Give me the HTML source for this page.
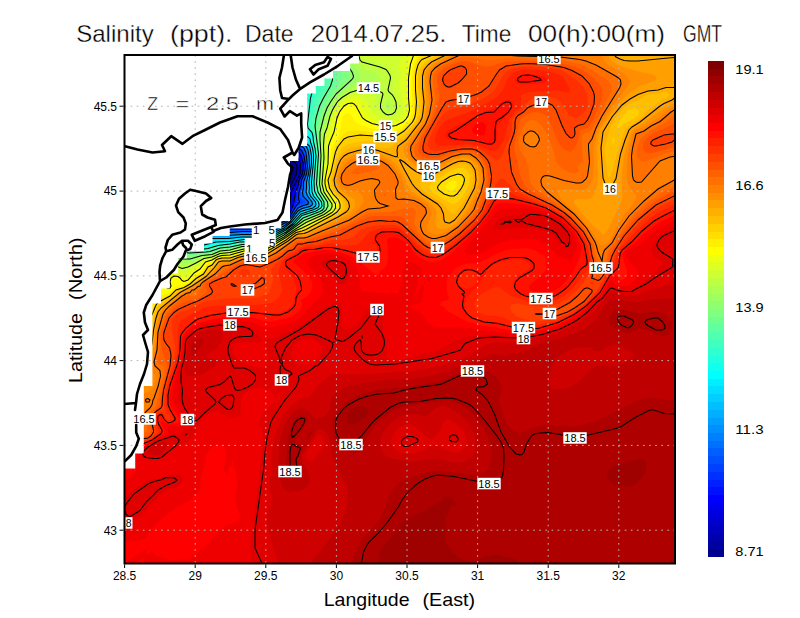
<!DOCTYPE html><html><head><meta charset="utf-8"><title>Salinity</title><style>html,body{margin:0;padding:0;background:#fff}svg{display:block}text{font-family:"Liberation Sans",sans-serif;fill:#000}</style></head><body>
<svg width="800" height="618" viewBox="0 0 800 618">
<rect width="800" height="618" fill="#fff"/>
<defs><clipPath id="cp"><rect x="124.5" y="55" width="550.5" height="508.5"/></clipPath></defs>
<defs><clipPath id="wm"><polygon points="680,50 358.8,55 358.8,63.5 350.2,63.5 350.2,71 333,71 333,78.5 324.4,78.5 324.4,86 315.8,86 315.8,93.5 307.2,93.5 307.2,146 298.6,146 298.6,161 290,161 290,221 281.4,221 281.4,228.5 229.8,228.5 229.8,236 212.6,236 212.6,243.5 204,243.5 204,251 186.8,251 186.8,258.5 178.2,258.5 178.2,273.5 169.6,273.5 169.6,288.5 161,288.5 161,303.5 152.4,303.5 152.4,386 143.8,386 143.8,453.5 135.2,453.5 135.2,468.5 124.9,468.5 120,468.5 120,570 680,570"/></clipPath></defs>
<g clip-path="url(#cp)">
<rect x="120" y="50" width="560" height="520" fill="#00008f"/>
<path fill="#00009f" fill-rule="evenodd" d="M246,54l430,0l0,512l-552,0l0,-347l0.5,-1l-0.5,-1l0.5,-3l-0.5,-3l2,0l3.5,3l1.5,2l1,0.5l2,0l2,-1l2,0l2,-0.5l2,0.5l0.5,-1.5l-1,-2l0.5,-0.5l2,0.5l2,-1l4,1l6,0l2,-1l2,1l4,0l2,-1.5l2,1.5l6,1.5l4,-0.5l8,2.5l12,-0.5l6,0.5l10,1.5l6,0l4,1.5l6,0.5l2,-1l2,1l4,0l2,-0.5l14,0.5l8,-0.5l10,-1.5l6,-2l4,-3l3,-4l2.5,-18l4.5,-10.5l3,-5.5l0.5,-2l0,-4l-1.5,-3.5l-4,-3.5l-2,-2.5l-2,-4.5l-3.5,-2l-0.5,-2l-2.5,-2l-1,-2l-0.5,-2l-2.5,-2l-3.5,-8l-2.5,-2l-0.5,-2l-2,-2l-2.5,-8l-3,-2l-1.5,-6l-3,-6l-1,-4l0.5,-2l-1,-6l2.5,0.5l0.5,-0.5l-1.5,-2l-0.5,-8l-4,-4l-1,-2l-0.5,-2l1,-0.5l2,1.5l3,-1l-5.5,-6l-1.5,-5.5l-5,-8.5l-0.5,-2l1.5,0zM125.5,220l0.5,1l0.5,-1l-0.5,-0.5l-0.5,0.5zM218,147l2,1l2,0.5l1.5,1.5l0.5,2l-2,1.5l-2,-2l-2,0l-1.5,-1.5l0.5,-2l1,-1zM226,149.5l2,2.5l2.5,0l-5.5,0l0.5,-2l0.5,-0.5z"/>
<path fill="#0000af" fill-rule="evenodd" d="M248,54l428,0l0,512l-552,0l0,-346.5l1.5,2.5l2,0l-2,-4l0.5,-2l-1.5,-4l1.5,0l2,1l2,3l2,1l6,0l2,-1l4,0.5l0,-0.5l-1,-2l1,-1.5l8,1l4,-0.5l2,-1l4,1.5l2,0l2,-2l6,2.5l4,0.5l2,0l10,2l10,-0.5l16,2l6,0.5l4,1l6,0.5l12,0l2,0l12,0l10,-1l6,-1l8,-3l4,-3l2,-3.5l0.5,-2.5l2,-16l8.5,-16l0.5,-4l0,-4l-1.5,-3l-4,-3.5l-3,-3.5l-1,-2l-4,-3l-2.5,-3l-2,-4l-2.5,-2l0,-2l-1,-0.5l-1.5,-3.5l-3,-4l-1,-2l-2,-2l-3,-8l-2,-2l-2,-6l-4,-10l0.5,-2l-0.5,-4l3,0l-2,-4l-0.5,-8l-2,-1l-3,-5l3,-1l2,1.5l1,-0.5l-1,-2.5l-2,-1l-3,-4.5l-1,-6l-2,-1l-2,-3.5l-1,-5.5l1,0zM218,148l2,1l2,0l1,1l0,2l-1,1l-2,-2l-2,0l-1,-1l1,-2z"/>
<path fill="#0000bf" fill-rule="evenodd" d="M250,54l426,0l0,512l-552,0l0,-336.5l0.5,-1.5l-0.5,-0.5l0,-7l0.5,1.5l3.5,1.5l0.5,-1.5l-2.5,-4l0.5,-2l-0.5,-2.5l2,0l1,2.5l3,2l10,-0.5l2,0.5l1,-2l-1.5,-2l0.5,-0.5l4,1l6,0l2,0l2,-1l6,1l2,-2l6,3.5l2,0l8,0l2,1.5l6,0.5l10,-0.5l20,2l6,1.5l4,0l28,0l10,-1l6,-1.5l6.5,-2.5l3,-2l2,-2l1.5,-4l1,-4l1,-12l0.5,-2l4,-6l1,-4l3.5,-6l1,-6l-0.5,-4l-2.5,-4l-6,-6l-4,-3l-2,-2l-5,-9l-2,-2l-5,-8l-2,-2l-2.5,-8l-2,-2l-1.5,-4l-4,-10l0.5,-2l-1,-4l2.5,0l-0.5,-4l-1,-2l-0.5,-6l-2,-3l-2,-1l-1,-4l1,-0.5l3.5,2.5l0,2l0.5,0.5l1,-0.5l0,-2l-2,-4l-3,-3.5l-3,-8.5l-2,-2l-2,-8l1,0zM218,149l4,0.5l0.5,0.5l-0.5,2l-2,-1.5l-2,0l-0.5,-0.5l0.5,-1z"/>
<path fill="#0000cf" fill-rule="evenodd" d="M252,54l6,0.5l0.5,-0.5l417.5,0l0,512l-552,0l0,-335l2,-1l-2,-3l0,-4.5l4,2l2,-0.5l-3.5,-6l1.5,-3l0.5,1l3.5,2.5l2,-0.5l6,2l2,-1.5l2,0.5l2,-1l-0.5,-2l0.5,-1l4,1l2,-1l2,1l4,0l2,-1l4,1l2,-2.5l3.5,2.5l2.5,1l2,0.5l4,-0.5l2,0.5l2,0l6,1.5l12,-0.5l20,2l10,1.5l28,0.5l10,-1.5l6,-1.5l8,-3l4,-3.5l2,-4l1.5,-5l0.5,-12l1,-2l3,-5l2,-5l3,-6l1,-6l-0.5,-4l-1.5,-4l-1.5,-2l-4,-4l-5.5,-4l-3,-4l-0.5,-2l-1.5,-1.5l-1.5,-2.5l-2,-2l-7,-10l-2,-8l-2.5,-2l-1.5,-6l-2,-2l-1.5,-4l0.5,-2l-1,-4l2,-2l0,-2l-1.5,-4l0,-4l-2.5,-4l0.5,-0.5l2,1.5l1,-1l-1,-2l0.5,-2l-5.5,-8l-1,-6l-3,-4l-1,-2l-1,-6l1,0zM258,80l0,2l-0.5,-2l0.5,0zM222,149.5l0,1.5l-1.5,-1l1.5,-0.5z"/>
<path fill="#0000df" fill-rule="evenodd" d="M254,54l2.5,0l1.5,1l1,-1l417,0l0,512l-552,0l0,-334l2,0l1,-2l-3,-3.5l0,-2.5l2,0l4,2l0.5,-2l-1.5,-2l-1.5,-4l0.5,-1.5l6,3.5l2,-0.5l4,1l2,1.5l0.5,-2l3.5,-1l2,-2.5l2,0.5l2,-1l2,1l4,0l4,-1.5l2,1l2,-2l2,1.5l6,3l4,-0.5l2,0.5l2,-0.5l6,2l6,-1l8,0.5l30,3l26,0.5l10,-1.5l8,-2l6,-2.5l4.5,-3.5l1.5,-2.5l2.5,-7.5l1,-12l8.5,-18l1,-6l-0.5,-4l-2.5,-6.5l-3,-3.5l-5.5,-4l-4,-6l-2.5,-2l-3,-4l-4,-6l-2.5,-4l-3,-8l-2,-2l-1.5,-6l-2,-2l-1,-4l0,-2l-0.5,-4l2,-2l0,-2l-1.5,-2l-0.5,-4l0,-2l1,-2l-0.5,-2l-1,-2l0,-2l-1.5,-4l-2.5,-4l-0.5,-4l-1,-2l-3,-4l-1.5,-8l1,0zM264.5,88l0,2l1.5,1l1.5,-1l-1.5,-3l-1.5,1z"/>
<path fill="#0000ef" fill-rule="evenodd" d="M258,55.5l2,1.5l1,-1l-1.5,-2l416.5,0l0,512l-552,0l0,-333l2,0l2,-0.5l0.5,-0.5l-0.5,-2l-2,-3l-2,-1l0,-0.5l4,0l2,1.5l0.5,-1l0,-2l-1,-2l-0.5,-2l0.5,-2l4.5,2.5l6,0.5l2,1.5l2,-1.5l3.5,-1l0.5,-2.5l2,0l2,1l6,0l2,0l2,-1.5l4,1.5l4,-1l2,2l2,0.5l10,0l4,1.5l4,0.5l2,-1l12,1l6,0l20,2l28,0.5l4,-0.5l12,-3l6.5,-3l5,-4l4,-10l1,-12l3.5,-6.5l1.5,-5.5l3.5,-6l0.5,-6l0,-4l-1.5,-5l-2,-3.5l-6,-5.5l-7.5,-8l-7,-10l-2.5,-4l-2,-6l-2.5,-4l-2,-6l-2,-2l-0.5,-2l1,-2l-1.5,-4l0.5,-0.5l2,0.5l-2.5,-10l2.5,0.5l1,-0.5l0,-2l-2.5,-4l-0.5,-2l-2.5,-2l0,-4l-2.5,-6l0,-2l-4.5,-8l0,-4l0,-2l1.5,-0.5zM261.5,58l0.5,0.5l1,-0.5l-1,-0.5l-0.5,0.5z"/>
<path fill="#0000ff" fill-rule="evenodd" d="M260,54l416,0l0,512l-552,0l0,-332.5l4,1.5l1,-3l-2,-4l1,-2l2,2l2,0l-1,-4l-1.5,-2l0.5,-2l2,0l4,1.5l4,0l4,3l2,-2l2,0l1,-0.5l1.5,-2l1.5,-0.5l2,-0.5l4,1l4,-1.5l2,0l4,1l2,-0.5l2,2l2,0.5l12,0l2,1l4,0.5l2,-1l18,1l16,2l30,0.5l6,-0.5l12,-3l8,-4l4.5,-4l4,-10l0.5,-8l1,-4l3,-6l1.5,-6l3,-6l1,-10l-2,-6l-2,-4l-8.5,-8l-7.5,-8l-6,-10l-2,-6l-2,-2l-2.5,-8l-1.5,-2l0.5,-2l-1.5,-4l2.5,0l-1,-6l-1,-2l-0.5,-2l0.5,-0.5l2,1l1.5,-0.5l-1,-4l-2,-2l-0.5,-2l-2,-3.5l-1,-0.5l0.5,-4l-1.5,-2l-2,-8l-2,-2l-1,-4l0,-4l1,-0.5l4,3l1.5,-0.5l-1.5,-2.5l-2,-0.5l-2,-3zM271.5,98l0.5,0l0,-0.5l-0.5,0.5z"/>
<path fill="#0010ff" fill-rule="evenodd" d="M262,54l414,0l0,512l-552,0l0,-331.5l2,1.5l2,0.5l2,-1.5l0.5,-1l-0.5,-2l-1,-2l1,-1l2,0.5l1,-1.5l-1.5,-4l-1.5,-2l2,-1l3,1l1,2l2,-0.5l2,1l2,-1l2,1.5l4,-1.5l2,0.5l1,-2l2.5,-2l4.5,1l6,-1.5l6,1.5l2,1.5l10,0.5l4,-0.5l4,1.5l6,-0.5l16,0.5l18,2l28,0.5l10,-1.5l9.5,-3l8,-4l4,-4l4,-10l1,-8l1,-4l2.5,-6l1.5,-6l3,-6l1,-8l-0.5,-4l-2,-6l-2.5,-4l-11,-10l-3.5,-4l-2,-4l-2,-2l-2,-4l-2,-6l-1.5,-2l-1,-2l-1.5,-4l0,-2l-1,-2l-1,-4l1.5,-2l-0.5,-4l1,-0.5l2,0.5l-0.5,-2l-0.5,-4l-1,-4l-2,-2l-2.5,-4l0,-4l-2,-6l0,-2l-3.5,-6l-0.5,-6l4.5,2.5l1.5,-0.5l-3.5,-5.5l-2,-0.5l0,-2zM270,95.5l1,0.5l-1,0.5l-0.5,-0.5l0.5,-0.5z"/>
<path fill="#0020ff" fill-rule="evenodd" d="M266,54l410,0l0,512l-552,0l0,-330.5l4,2l2.5,-1.5l1,-2l-0.5,-2l-1.5,-2l0.5,-0.5l2,1l0.5,-0.5l1,-2l-1.5,-4l0,-1l2,-0.5l1,1.5l1,0.5l4,1l2,-1.5l2,2l2,0.5l1,-0.5l1,-2l2,1.5l4,-3.5l2,-0.5l1.5,0.5l2.5,2l1,-2l3,-1l5.5,1l2.5,2.5l2,-1l4,0.5l2,-0.5l2,0.5l4,0l4,1l6,0l16,0l18,2l28,0l10,-1l10,-3.5l8,-4l4,-4l5.5,-12.5l1,-10l2.5,-6l1,-6l3,-6l1,-10l-2,-8l-2,-4l-11,-10l-3.5,-4l-6,-10l-2,-6l-2,-2l-1,-4l-1,-4l-1,-2l1,-2l-0.5,-6l2.5,-2l-1.5,-8l-4,-6l-1,-2l0.5,-4l-2,-4l0,-4l-3,-4l-0.5,-6l4,3l2,-1l-1,-2l-1,-1l-3.5,-5l-0.5,-2l2,0zM270,66l0.5,0l-0.5,-2l0,2z"/>
<path fill="#0030ff" fill-rule="evenodd" d="M266,54l410,0l0,512l-552,0l0,-329.5l4,1.5l2,0l2,0.5l0.5,-0.5l-1,-2l1,-2l-0.5,-2l2,0.5l0.5,-0.5l-1,-2l0.5,-2l-0.5,-2l0.5,-2l3.5,2l0.5,1l2,-0.5l2,-2l2,2l4,1.5l2,-1.5l2,-0.5l2,-2l2,-0.5l4,1.5l2,0l0,-1l2,-1.5l4,0l4,3l6,-0.5l2,-0.5l2,1l4,-0.5l6,1.5l4,-0.5l16,0.5l18,1.5l28,0l10,-1.5l8,-2l8,-3.5l6,-5l7,-14l0,-4l0.5,-6l2.5,-6l1,-6l2,-4l1,-3.5l0.5,-6.5l0,-4l-1.5,-6l-1.5,-4l-1.5,-2l-9.5,-8l-3.5,-4l-3,-4l-3,-6l-2,-6l-1.5,-2l-1.5,-4l0,-2l-1,-2l1,-2l-1.5,-4l0.5,-2l2.5,-2l-1,-4l-1.5,-6l-3,-4l-2.5,-14l-2.5,-4l-0.5,-2l0,-2l1.5,-0.5l4,2.5l0.5,0l0,-2l-2.5,-4.5l-2,-1l-3.5,-6.5l1.5,0z"/>
<path fill="#0040ff" fill-rule="evenodd" d="M266,54l410,0l0,512l-552,0l0,-327.5l2,-0.5l2,1l4,0.5l1.5,-1.5l0,-4l1.5,-2l0,-4l-1,-2l2.5,0l1.5,2l2,0l2,-2.5l6,3.5l2,-1.5l2,0l6,-2l4,1l2,-3l4,0.5l2,0.5l2,2l6,0l2,-1l4,1.5l4,-0.5l4,1.5l20,-0.5l18,1.5l30,0l8,-1.5l10,-3l8,-4l4.5,-4.5l5.5,-10l3.5,-4l-1,-4l0.5,-6l2,-6l0.5,-6l3,-6l1,-8l-0.5,-4l-1,-6l-2,-5l-2,-2.5l-8,-6.5l-3.5,-4l-2.5,-4l-3.5,-6l-2,-6l-1.5,-2l-1,-2l-0.5,-4l0.5,-2l-1.5,-6l3,-2l-1,-2l0,-4l-1.5,-4l-1,-2l-2,-2l-1,-6l0.5,-2l-1.5,-2l-0.5,-6l-1.5,-1.5l-1,-2.5l0,-2l1,-0.5l4,3l0.5,-0.5l0,-2l-4.5,-7l-1,-1l-4.5,-6l1.5,0z"/>
<path fill="#0050ff" fill-rule="evenodd" d="M266,54l410,0l0,512l-552,0l0,-326l2,-0.5l2,0l2,1.5l2,-1l2,0.5l0.5,-0.5l-0.5,-2l2,-1l0.5,-1l-0.5,-4l0.5,-2l-1,-2l0.5,-0.5l0.5,0.5l3.5,1.5l2,-0.5l2,-1.5l6,3l6,-3l2,0.5l2,-1l2,0.5l2,-2l2,-0.5l4,0.5l2,2l2,0.5l4,0l2,-1l4,1l4,0l4,1l16,-0.5l22,1.5l28,0l8,-1l10,-3l10,-5l5,-5l5,-8.5l2,-2l6.5,-3.5l-4.5,-4l-0.5,-2l0.5,-4l2,-6l0,-4l3,-8l1,-6l0,-6l-1.5,-8l-2.5,-5l-8.5,-7l-6.5,-8l-3,-6l-2,-6l-1.5,-2l-1,-4l0.5,-2l-1,-4l2,-2l0,-4l-1,-2l-0.5,-4l-3.5,-8l-0.5,-6l-1.5,-8l-2.5,-4l0.5,-1l2,0.5l2,1l1,-0.5l-0.5,-2l-0.5,-2l-5,-6l-1,-2l-5,-6l1,0z"/>
<path fill="#0060ff" fill-rule="evenodd" d="M266,54l410,0l0,512l-552,0l0,-325.5l2,1l2,-1.5l2,2.5l4,-1l2,-3l2,0.5l0.5,-1l-1.5,-2l0,-2l1,-2l-0.5,-2l0.5,-0.5l2,2l6,-2l6,3l2,-2.5l2,-0.5l6,-0.5l2,0.5l2,-3.5l4,1l4,2.5l8,-1l2,1l6,0l2,1l2,0l18,-0.5l18,1l12,-0.5l16,0l6,-0.5l12,-3.5l10,-4.5l6,-6l4,-7l2,-2l8,-4l0.5,-1l-0.5,-1l-4,-3l-1,-2l0,-4l2,-6l0,-4l2.5,-8l1,-6l0,-6l-1,-8l-1.5,-4l-1.5,-2l-7.5,-6l-6.5,-8l-3,-6l-2,-6l-1.5,-2l-0.5,-2l1,-2l-1.5,-4l2,-2l-0.5,-6l-0.5,-2l-0.5,-2l-1.5,-4l0,-2l-2,-2l-2,-16l-1.5,-2l1.5,-0.5l2,1l1,-0.5l-0.5,-2l-0.5,-2l-7,-8l-0.5,-2l-5.5,-6l1,0z"/>
<path fill="#0070ff" fill-rule="evenodd" d="M266,54l410,0l0,512l-552,0l0,-324.5l2,1l2,-0.5l2,1l5,-1l1,-2.5l2,0l1,-1.5l-1,-2l0,-2.5l6,-1.5l2,-2l6,3l2,-1.5l4,-1l6,0.5l4,-2.5l6,2l6,0l2,-0.5l4,1l4,0l4,0.5l18,-0.5l18,1l12,-0.5l16,0l6,-0.5l12,-3.5l10,-5l6,-6l6,-8.5l4,-2.5l5.5,-1.5l0.5,-2l-5,-6l-1,-4l1.5,-4l0,-6l3,-8l1,-8l-1.5,-13l-2.5,-5l-7,-6l-3.5,-4l-3,-4l-3.5,-6l-1,-4l-2,-4l1,-2l-1,-4l1.5,-2l-1,-8l-2.5,-6l0,-4l-1.5,-2l-0.5,-4l0,-2l-1,-4l0,-4l-1,-2l2.5,-1l0,-3l-8.5,-10l-0.5,-2l-5.5,-6l0.5,0z"/>
<path fill="#0080ff" fill-rule="evenodd" d="M266,54l410,0l0,512l-552,0l0,-324l2,1l2,-0.5l2,1l6,-0.5l3.5,-3l-0.5,-4l1,-1.5l4,-1l2,-2l8,3l2,-2l4,-0.5l4,0.5l2,-1.5l4,-1l6,2l2,-0.5l2,0.5l2,-0.5l4,0.5l14,1l10,-1l18,1l16,-0.5l14,0l6,-0.5l12,-4l8.5,-4l5.5,-4l8,-11l4,-2.5l6,-1.5l1.5,-1l0,-2l-5,-6l-1,-4l1,-4l0,-6l2.5,-8l1,-8l-0.5,-10l-1.5,-6l-2,-3l-6,-5l-4,-4l-2.5,-4l-3.5,-6l-1,-4l-1,-2l0.5,-2l-1,-4l1,-2l-0.5,-8l-2,-6l-0.5,-4l-2,-4l0,-4l0.5,-2l-1.5,-2l0,-6l1.5,-2l-1.5,-2l0,-2l-8.5,-10l0,-2l-2,-2l-2,-1.5l-2,-2.5z"/>
<path fill="#008fff" fill-rule="evenodd" d="M266,54l410,0l0,512l-552,0l0,-322.5l4,0l2,1l2,0l2,-0.5l2,0.5l1.5,-0.5l3,-2l1,-6l4.5,-1.5l2,-1.5l6,2l6,-2l4,0.5l6,-2l2,0.5l2,1l8,-0.5l6,1l12,1l10,-1l18,1l16,-1.5l14,0.5l6,-1l12,-3.5l10,-5l4.5,-4l7.5,-10l2,-1.5l4,-1.5l4.5,-1l2.5,-2l-0.5,-2l-4.5,-6l-1.5,-4l1,-4l0,-6l2,-8l1,-8l-0.5,-10l-1,-6l-1,-2l-1.5,-2l-5.5,-4l-3.5,-4l-4,-6l-2.5,-6l-1.5,-8l1.5,-2l-1,-4l-0.5,-6l-1.5,-4l-0.5,-6l-1.5,-2l0,-6l-1,-4l0,-4l1,-2l-3,-4l0,-2l-8.5,-10l0,-2l-2.5,-3l-2,-1l-2,-2z"/>
<path fill="#009fff" fill-rule="evenodd" d="M270,54l406,0l0,512l-552,0l0,-321.5l2,0l2,-0.5l4,2l4,-0.5l2,0l4.5,-3.5l-1,-2l2.5,-3l3.5,-1l0.5,-1l2,-0.5l4,1l6,-0.5l6,0l2,-1l4,-1l2,1.5l8,-0.5l6,1l12,1l12,-1.5l16,1l14,-1.5l16,0l6,-0.5l12,-4l8,-3.5l6,-5l8,-10l6,-3.5l7,-1.5l1,-1.5l0,-2.5l-5,-6l-1.5,-4l1,-4l-0.5,-6l2.5,-8l1,-8l-0.5,-10l-1,-6l-1,-2l-1.5,-2l-5,-4l-3.5,-4l-3,-4l-2,-4l-1,-4l0,-2l-1,-2l1,-2l-1.5,-6l-0.5,-8l-1.5,-4l0,-6l-1,-2l0,-6l-1,-2l0.5,-6l-4.5,-6l0,-2l-8,-10l0,-2l-4,-4l0.5,-2z"/>
<path fill="#00afff" fill-rule="evenodd" d="M276,54l400,0l0,512l-552,0l0,-321l2,1l4,-0.5l2,1l4,0l2,0l2,-0.5l4,-3l0.5,-1l-0.5,-2.5l4,-2l2,-2l10,1l2,-0.5l4,0.5l2,-1.5l4,-1l4,2l8,-0.5l10,1.5l8,0l10,-1.5l16,0.5l14,-1l16,0l6,-0.5l12,-4.5l8,-3.5l6,-4.5l8,-10l2,-1.5l4,-2l6,-1.5l2.5,-1l1,-2l-0.5,-2l-5,-6l-1.5,-4l1,-4l-0.5,-6l1.5,-6l1.5,-10l-0.5,-10l-1,-6l-1.5,-4l-5.5,-4l-3.5,-4l-4.5,-8l-2.5,-16l0,-6l-1.5,-6l0,-4l-1,-4l0,-4l-1,-4l0,-2l-1,-2l0,-2l-4.5,-6l0,-2l-6,-8l0.5,-2l-2,-4l-0.5,-4l2,0z"/>
<path fill="#00bfff" fill-rule="evenodd" d="M278,54l1,0l3,2l0,-2l394,0l0,512l-552,0l0,-321l2,1.5l4,0l2,1l2,-0.5l2,1l2,-0.5l2,0.5l5.5,-4l0.5,-3l6,-4l8,1l2,-0.5l4,0l2,-1l4,-0.5l4,1.5l8,-0.5l10,1.5l8,0l10,-1.5l16,0l14,-1l16,0l6,-1l12,-4l8,-4l6.5,-5l7.5,-9l2,-2l4,-1.5l6,-1.5l4,-2l0.5,-2l-0.5,-2l-4.5,-6l-1.5,-4l0.5,-4l-0.5,-6l1.5,-6l1,-12l0,-8l-1,-6l-1.5,-4l-7,-6l-4,-6l-2,-4l0,-4l-2,-10l-1,-8l-0.5,-4l0,-6l-1,-2l-0.5,-10l-3,-4l0.5,-2l-3.5,-4l0.5,-4l-2.5,-1.5l-1.5,-2.5l0,-4l-1,-2l-1,-4l-2,-4l1.5,0z"/>
<path fill="#00cfff" fill-rule="evenodd" d="M286,54l390,0l0,512l-552,0l0,-320.5l2,1.5l4,0l2,1l2,0l2,1l4,0l6,-2.5l2,-0.5l-1,-2l0.5,-2l1.5,-2l3,-2l6,1l4,0l4,0l8,-2l2,2l8,-0.5l10,1.5l8,0l10,-2l16,0l14,-1.5l16,0l6,-0.5l12,-4.5l8,-4l7.5,-5.5l6.5,-8.5l2,-1.5l4,-2l8.5,-2l3,-2l0.5,-2l-1,-2l-4.5,-6l-2,-4l1,-4l-0.5,-6l1,-6l1.5,-12l-0.5,-8l-0.5,-6l-1.5,-4l-5,-4l-4,-5l-1.5,-3l-0.5,-2l-1,-2l-1.5,-8l-2,-16l0,-6l-1,-12l-4.5,-6l-0.5,-4l0.5,-2l-0.5,-2l-2,-2l-0.5,-2l0,-2l-0.5,-2l-1,-2l0.5,0l2,0.5l1,-0.5l0,-2l-1,-2l0,-4l-1,-2l1,0zM148.5,242l1.5,0.5l0,-0.5l0,-0.5l-1.5,0.5z"/>
<path fill="#00dfff" fill-rule="evenodd" d="M288,54l388,0l0,512l-552,0l0,-309l2,-3l-2,-4l0,-2l2,-0.5l4,0l2,1l2,0l4,1.5l2,0l2,0.5l4,-2.5l2,0l1,-2l-1,-2.5l2,1l1,-0.5l0,-2l1,-2l2,-0.5l4,1l2,-0.5l2,0.5l2,-0.5l2,0l8,-1.5l2,2l8,-0.5l10,1.5l8,0l12,-2l14,-0.5l14,-1.5l16,0l6,-1l12,-4.5l8,-3.5l8,-6.5l8,-9.5l4,-1.5l10,-3l2.5,-2l0.5,-2l-1,-2l-4.5,-6l-2,-4l0.5,-4l-0.5,-6l2.5,-18l0,-8l-1.5,-8l-0.5,-2l-1.5,-2l-3,-2l-4.5,-6l-3,-8l-1,-6l-1.5,-14l0,-8l-1,-10l-2.5,-4l-1.5,-4l1.5,-4l-0.5,-2l-2,-2l0.5,-4l1,-2l-0.5,-8l-0.5,-2.5l-2.5,-1.5l-0.5,-2l1,0z"/>
<path fill="#00efff" fill-rule="evenodd" d="M292,54l384,0l0,512l-552,0l0,-307.5l2,0l1,-2.5l-2,-6l1,-2l6,1.5l2,-0.5l2,1.5l4,0l2,1l7.5,-3.5l0,-2l0.5,-0.5l2,0l0.5,-1.5l-0.5,-2.5l2,-1l6,1.5l2,-0.5l4,0l6,-1l4,1l8,0l18,1.5l4,0l8,-2.5l14,-0.5l16,-2l14,0l6,-0.5l10,-4l10,-4.5l8,-6l8,-9.5l4,-2l10,-2.5l1.5,-1l2,-2l0.5,-2l-1,-2l-4.5,-6l-2,-4l0.5,-4l-0.5,-6l2,-18l0,-8l-1,-8l-1.5,-4l-4,-3l-4,-6.5l-2,-4.5l-1.5,-8l-1,-12l0,-12l-1,-2l0,-2l-1,-2l-0.5,-6l-1,-2l1,-2l-1,-2l1,-2l-1,-2l0,-2l-0.5,-2l1.5,-2l-1,-2l0,-2l1,-2l-4.5,-10l1.5,0z"/>
<path fill="#00ffff" fill-rule="evenodd" d="M294,54l382,0l0,512l-552,0l0,-306.5l2,0.5l2,-1l0.5,-1l0,-2l-1.5,-4l-0.5,-2l1.5,-0.5l4,1l2,-0.5l2,1l4,0l2,1l2,0.5l3.5,-2.5l2.5,-1l3.5,-3l2.5,-3.5l4,0.5l2,-0.5l4,0.5l6,-1l6,1l2,-0.5l6,0.5l8,1l10,0.5l12,-3l14,-0.5l14,-2l14,0l6,-1l12,-4.5l10,-5.5l6,-4.5l8.5,-9.5l3.5,-1.5l10,-3l3,-1.5l1,-1l0.5,-1l0.5,-2l-1,-2l-4.5,-6l-2,-4l0.5,-4l-0.5,-6l2,-20l-0.5,-8l-0.5,-6l-3.5,-8l-3,-2l-2,-3l-2.5,-5l-0.5,-4l-1.5,-14l0.5,-10l-1,-4l-1,-2l0,-4l0.5,-4l-0.5,-2l0.5,-4l2,-2l-0.5,-2l-1,-6l0.5,-2l-0.5,-4l-3,-6l-3.5,-6l1.5,0z"/>
<path fill="#10ffef" fill-rule="evenodd" d="M298,54l378,0l0,512l-552,0l0,-305.5l4,1l2.5,-3.5l-2,-6l1.5,-0.5l2,0.5l2,-0.5l6,0l6,2l2,-2l2,-0.5l1.5,-1l2.5,-2.5l2,-3l4,-0.5l8,0.5l6,-1l4,1l4,-0.5l22,2l12,-3l14,-1l14,-2l14,-0.5l6,-0.5l12,-5l10,-5l6,-5l7,-8l2.5,-2l12.5,-4l4.5,-2l1.5,-2l0,-2l-1,-2l-4.5,-6l-2,-4l0,-2l0.5,-2l-1,-6l2,-20l0,-8l-1,-6l-2,-6l-1,-7l-2,-1.5l-2,0l-1.5,-1.5l-1,-2l-1,-4l-0.5,-12l0,-10l-0.5,-2l-0.5,-4l1,-8l-0.5,-2l2,-2l0.5,-8l-0.5,-2l0,-4l-0.5,-2l-4,-10l-1,-6z"/>
<path fill="#20ffdf" fill-rule="evenodd" d="M304,54l372,0l0,512l-552,0l0,-304.5l2,1l2,0l2,-0.5l2,-1.5l-2,-6.5l2,-0.5l2,0.5l2,-1l2,1l2,-1l4,0.5l2,1l1.5,-0.5l4,-2l6.5,-5.5l2,-1l8,0.5l6,-1l4,1l6,-0.5l20,1.5l12,-3l14,-1l12,-2l16,-0.5l6,-1l12,-5l10,-5l7,-5.5l7,-8l2,-1.5l12,-3.5l5.5,-3l1,-2l-0.5,-4l-4.5,-6l-2,-4l0,-2l0,-2l-0.5,-6l1.5,-16l0.5,-10l-1,-8l-1.5,-6l-0.5,-6l-2,-3l-4.5,-3l-1,-4l0,-18l-0.5,-4l1.5,-12l1.5,-4l1.5,-8l0,-4l-2,-6l0.5,-2l-1,-0.5l-1,-3.5l0.5,-2l-1,-2l-0.5,-2l-1.5,-2l1,-2l0.5,0z"/>
<path fill="#30ffcf" fill-rule="evenodd" d="M312,54l364,0l0,512l-552,0l0,-275l1,-1l-1,-2l0,-2.5l0,-22l6,0.5l2,-1.5l1,-2.5l0,-2l3,-2.5l4,-0.5l0.5,-1l1.5,-0.5l4,1.5l6,-1l4,-3l2,-3l16,-1.5l4,1l26,1l4,-0.5l10,-3l12,-1.5l12,-2l16,0l6,-1l6,-2.5l16,-8l7.5,-6l6.5,-7l2,-1.5l14,-5l4.5,-2.5l1,-2l-0.5,-4l-4.5,-6l-2,-4l-0.5,-2l0.5,-2l-0.5,-6l1.5,-26l-1,-8l-1.5,-6l-0.5,-6l-0.5,-2.5l-2,-2.5l-2,-1l-1,-2l-0.5,-4l2.5,-26l3,-12l1,-6l-0.5,-8l-3,-10l2,-2l-1.5,-6l2,0z"/>
<path fill="#40ffbf" fill-rule="evenodd" d="M316,54l360,0l0,512l-552,0l0,-265l1,-1l-1,-2.5l0,-3l2,-1.5l0.5,-3l0,-2l-2.5,-3l0,-18.5l2,-1.5l6,0l1,-1l1.5,-2l0,-2l3.5,-3l2,0l4,-2l4,0l2,1l2,0l4,-3l2,0l0.5,-1l0.5,-2l1,-1l2,0.5l6,-1.5l8,0l4,0.5l24,1l4,-0.5l10,-3l12,-1.5l12,-2l16,-0.5l6,-1l6,-2l16,-8.5l8.5,-6.5l7.5,-8l14,-4.5l5.5,-3.5l1,-2l-0.5,-4l-4.5,-6l-2,-4l-0.5,-2l0.5,-2l-1,-6l1.5,-18l0.5,-10l-1.5,-8l-1,-4l-0.5,-8l-4,-6l-1,-4l1,-8l3,-16l5.5,-18l0,-8l-1,-10l-2.5,-10l1.5,0zM142,254l0.5,0l-0.5,2l0,-2z"/>
<path fill="#50ffaf" fill-rule="evenodd" d="M320,54l356,0l0,512l-552,0l0,-256.5l1,-1.5l-1,-2.5l0,-3l3,-2.5l-3,-3.5l0,-1l2.5,-1.5l1.5,-4l2,-2l-4,-1.5l-2,-2.5l0,-8l1.5,-2l1,-6l3,-2l2.5,-0.5l2,1l1,-0.5l1.5,-2l-0.5,-2l1,-2l1,-1l4,-0.5l3,-2.5l3,0l2,0.5l2,0l6,-2l4,-3.5l4,-0.5l2,-0.5l8,-0.5l14,1.5l16,-0.5l4,-1l8,-2.5l12,-1.5l12,-2.5l16,0l6,-1l6,-2.5l16,-8.5l9.5,-7l6.5,-7l14,-5l6,-3l1,-3l0,-4l-4.5,-6l-2,-4l-0.5,-2l-0.5,-8l1.5,-28l-2,-12l-0.5,-8l-2.5,-6l-1,-4l0.5,-4l3.5,-16l2,-6l5.5,-12l1.5,-6l-0.5,-10l-4,-16l0.5,0z"/>
<path fill="#60ff9f" fill-rule="evenodd" d="M326,54l350,0l0,512l-552,0l0,-254l1.5,0l1,-4l-0.5,-2l-2,-2l5,-4l-2,-2l1.5,-2l-1,-2l0.5,-2l2,-1.5l1.5,-0.5l-0.5,-2l-3,-2l-2,-0.5l-1,-1.5l1,-2l0,-6l2,0.5l0.5,-0.5l-0.5,-2l1,-2l0,-2l1,-2l4,-0.5l4,-1l0,-2.5l1,-2l3,-2l2,0.5l2,-3.5l8,0.5l2,-0.5l6,-4l4,-1l10,-1l14,1.5l16,-1l4,-0.5l10,-3.5l10,-1l12,-2.5l18,-0.5l6,-1.5l20,-10.5l10,-7.5l6,-6l20,-8l1.5,-2l0,-6l-4,-6l-2,-4l-1,-8l1.5,-30l-2,-12l-0.5,-8l-2,-8l1.5,-8l3.5,-14l3.5,-7.5l6,-10.5l1.5,-4l0,-4l-0.5,-6l-4.5,-18l1.5,0zM126,296l0.5,0l-0.5,0.5l-0.5,-0.5l0.5,0z"/>
<path fill="#70ff8f" fill-rule="evenodd" d="M330,54l346,0l0,512l-552,0l0,-236.5l1,-1.5l0,-2l-1,-1l0,-11l4,-2l0.5,-2l-1,-4l3,-6l-1.5,-2l1,-2l0,-2l4,-4l-5,-4l-0.5,-2l0,-4l2.5,-2l-1,-2l1.5,-2l2,-2l-1,-2l5.5,-1.5l1,-0.5l1.5,-2l0.5,-2l1,-1l2,0l1.5,-1l2.5,-3.5l1,-0.5l3,-0.5l2,1l2,0l2,-1.5l4,-0.5l4,-2.5l4,-1l8,0l12,1l18,-2l12,-3.5l10,-1l12,-3l18,-0.5l6,-1l20,-11l8.5,-6l9,-8l12.5,-4.5l7,-3.5l1.5,-2l0,-6l-6,-10l-1.5,-8l2,-28l-3,-30l1.5,-8l3.5,-12l4,-8l8,-12l2.5,-6l0,-4l-0.5,-4l-6,-18l1,0zM126,284l1,0l-1,0z"/>
<path fill="#80ff80" fill-rule="evenodd" d="M334,54l342,0l0,512l-552,0l0,-233.5l3.5,-2.5l-1.5,-2l1,-2l-2,-2l0.5,-2l0,-4l1,-2l3.5,-2.5l0.5,-1.5l-1,-6l3.5,-4l-2.5,-4l1.5,-2l0.5,-2l3,-2l-0.5,-2l-5,-4l1,-2l0,-2l2,-2l0.5,-4l2.5,-2l2,-3.5l3.5,-2.5l2.5,-3l4,-1l2,-3.5l2,-1.5l4,0.5l2,-1l4,0l2,-1l2,-1.5l8,-1.5l12,1.5l6,-0.5l10,-1.5l8,-1l10,-3.5l10,-1l12,-3l18,-0.5l4,-1l6,-2.5l16,-8.5l9.5,-7l8.5,-7l17,-7l3.5,-2l1,-2l0,-6l-6,-10l-1.5,-8l1.5,-28l-1,-14l-0.5,-12l2,-12l4,-12l6,-10l9,-12l3,-6l0.5,-2l-1,-4l-7.5,-18z"/>
<path fill="#8fff70" fill-rule="evenodd" d="M340,54l336,0l0,512l-552,0l0,-229.5l3,-4.5l3,-2l-1.5,-2l1.5,-2l-2.5,-2l1,-2l-1,-2l2.5,-2l-1,-2l3,-2l0.5,-2l-0.5,-2l0,-2l3,-6l-2.5,-4l4,-4l0.5,-2l-1,-2l-2.5,-2l0.5,-1l2,-1l-2,-2l-0.5,-2l2.5,-1l0,-3l2,-2l2,-0.5l0.5,-1.5l0,-2l3,-2l0.5,-3l4,-1l4,-5l4,-0.5l2,-0.5l6,-0.5l4,-2l8,-1.5l10,2l6,-0.5l10,-2.5l10,-1.5l8,-3l10,-1.5l12,-2.5l18,-1l4,-0.5l4,-1.5l16,-9l12,-8.5l8,-6.5l18,-7l3.5,-2.5l1,-2l0.5,-4l-0.5,-2l-6,-10l-1.5,-8l1.5,-28l-1,-14l0,-10l2.5,-14l5,-12l7,-11.5l12,-12.5l3.5,-4l0.5,-2l-0.5,-2l-8.5,-14l-2,-6l1,0z"/>
<path fill="#9fff60" fill-rule="evenodd" d="M344,54l332,0l0,512l-552,0l0,-217.5l1.5,-0.5l0,-2l-1.5,-2l0,-4.5l1.5,-1.5l3.5,-6l2,-2l-0.5,-2l2,-2l-2.5,-2l0.5,-2l2,-4l-1,-2l3,-2l-0.5,-6l1.5,-2l1,-4l-0.5,-2l-2,-2l3,-2l1.5,-2l-0.5,-2l-2,-4l2,-1l1,-1l-1.5,-2l1,-2l0.5,-2l3,-2.5l1,-3.5l-0.5,-2l3.5,-2l1,-2l3,-1l2,-1l2,-3l4,-1.5l8,-0.5l4,-2l6,-0.5l8,1.5l6,0l12,-4l10,-1.5l8,-3l10,-1.5l14,-3l16,-0.5l6,-1.5l20,-11l18,-13.5l18,-7.5l4.5,-3l2,-4l0,-2l-2,-4l-5,-8l-2,-8l2,-28l-1,-12l0,-10l4.5,-18l2,-6l4.5,-8l2.5,-4l4,-4.5l14,-11.5l2,-2l1,-2l0,-4l-0.5,-2l-7.5,-10l-3,-6l-0.5,-2l0.5,0z"/>
<path fill="#afff50" fill-rule="evenodd" d="M350,54l326,0l0,512l-552,0l0,-216.5l2,0.5l1.5,-2l0,-2l-1,-2l-0.5,-2l3,-6l5,-10l-1.5,-2l0,-2l1.5,-2l1.5,-4l0.5,0l0.5,-2l-0.5,-2.5l2.5,-7.5l-0.5,-2l-0.5,-2l3,-4l-0.5,-2l0.5,-2l-1.5,-2l3,-2l0.5,-2l-1.5,-2l1,-2.5l1.5,-1.5l0,-2l2,-4l3,-2l1.5,-2l4,-2l1,-2l1,-1l2,0l4,-2.5l4,0.5l4,-1.5l4,-0.5l4,0.5l4,1.5l4,0l8,-2l10,-4.5l8,-1l8,-3.5l10,-1l14,-3.5l16,-0.5l6,-1.5l20,-11l18,-13l18,-7.5l6,-4l2,-3.5l0,-2.5l-2.5,-4l-5,-8l-2,-8l2,-28l-1,-10l0,-12l7,-22l2.5,-6l4,-6l5,-5.5l15.5,-10.5l2,-2l1.5,-2l0,-4l-0.5,-4l-8,-12l-2,-6l1.5,0z"/>
<path fill="#bfff40" fill-rule="evenodd" d="M354,54l322,0l0,512l-552,0l0,-214.5l2,0l2.5,-1.5l1.5,-4l-1,-4l2,-4l0,-2l3.5,-6l1,-4l-0.5,-4l1.5,-2l0.5,-2l1,-2l1,-6l1.5,-6l0,-2l-1,-2l3,-2l0.5,-8l2,-2l-1,-2l0,-1l2,-3l0,-2l2,-4l0,-2l2,0.5l2,-0.5l4,-4l0,-2l2,-1l2,0l2,-1.5l2,-0.5l10,-1.5l2,0.5l6,2.5l2,-0.5l10,-3.5l9,-4.5l9,-1.5l8,-3.5l10,-1l14,-3.5l16,-0.5l6,-1.5l18,-10l21.5,-14.5l18.5,-8.5l5.5,-3.5l1.5,-2l0.5,-2l-0.5,-2l-7.5,-12l-1,-2l-1,-8l2,-24l-1,-12l0.5,-10l7,-23l2,-5l4,-6.5l4,-4.5l4,-3l8,-4.5l14,-6l10,-3l2.5,-2.5l0,-2l-1.5,-2l-3.5,-2l-7.5,-1.5l-7.5,-6.5l-3,-4l-2,-6l0.5,0zM387,102l-1.5,2l0,2l0.5,2l2,2l2,0l2,-2l0,-4l-2,-2.5l-2,-0.5l-1,1z"/>
<path fill="#cfff30" fill-rule="evenodd" d="M362,54l314,0l0,512l-552,0l0,-210l2,-2l5,-2l-0.5,-2l2,-6l-1,-2l2,-4l0,-2l3.5,-8l0.5,-2l0,-4l1.5,-2l0,-2l1.5,-2l1.5,-8l-0.5,-2l1.5,-2l-1,-2.5l0.5,-1.5l2,-2l1,-4l-0.5,-2l2,-2l-0.5,-4l0.5,-2l4,-6l4.5,-2l3,-4l0.5,-2l3,-0.5l2,-1.5l2,-1l8,-0.5l8,2.5l4,0l10,-5.5l8,-5l8,-1l8,-4l10,-1l14,-3.5l16,-0.5l6,-1.5l18,-10l10,-7l12,-7.5l18,-8l6.5,-4.5l1.5,-2l0.5,-2l0,-2l-8,-12l-2,-8l2,-26l-0.5,-12l1,-12l2.5,-6l4.5,-15l4.5,-9l1.5,-2l4,-4l6,-3.5l8,-2.5l6,-0.5l8,1.5l5.5,3l1.5,4l1,6l1,4l1,2l4,3l4,1.5l4.5,-0.5l3.5,-2l1.5,-2l1,-2l0,-4l-1,-4l-1.5,-5.5l-3.5,-8.5l0.5,-10l-0.5,-4l-1.5,-2l-3,-4.5l-4,-2.5l-6,-2l-11.5,-3l-2.5,-1l-2.5,-3l0,-2l0.5,0z"/>
<path fill="#dfff20" fill-rule="evenodd" d="M404,54l272,0l0,512l-552,0l0,-208.5l2,-1.5l7,-4l0,-2l2,-6l-0.5,-4l1.5,-2l3,-8l2,-10l1.5,-4l0.5,-4l5,-16l0,-2l1.5,-2l0,-2l1.5,-2l-1.5,-2l4.5,-6l5,-2l1,-4l8,-4l8,-0.5l6,2.5l4,1l2,-1l4.5,-4l5.5,-3l6,-5l8,-1.5l6,-3.5l4,-1l8,-0.5l14,-3.5l16,-0.5l6,-1.5l20,-11.5l10,-7l12,-7l16,-7l8,-5.5l1.5,-2l0.5,-2l-0.5,-2l-8,-12l-1.5,-4l-1,-6l2.5,-20l0.5,-6l-0.5,-10l1,-10l0.5,-2l2.5,-6l5,-16l4.5,-8l4.5,-4l6.5,-3.5l6,-0.5l6,1.5l3.5,2.5l1.5,2l5.5,10l4,4l3.5,2.5l4,1.5l6,0.5l6,-1l4,-2.5l2.5,-3l0.5,-2l0.5,-4l-1.5,-8l-0.5,-8l-1.5,-6l1,-12l-2,-8l0,-2l2,-6l2,-4l1,0z"/>
<path fill="#efff10" fill-rule="evenodd" d="M410,56l0.5,-2l265.5,0l0,512l-552,0l0,-202l2.5,-4l0,-2l5,-4l2.5,-0.5l1,-1.5l0.5,-4l2,-6l-0.5,-2l1.5,-2l4,-14l0.5,-4l1,-2l1,-6l2.5,-8l0.5,-2l2,-4l4,-12l3.5,-4l4.5,-1l6,-6l4,-2l4,0l2,0.5l6,4l2.5,0.5l1.5,-1l6,-7l4,-2.5l6,-6l2,-1l6,-1l6,-3.5l4,-1l8,-0.5l14,-4l16,-0.5l6,-1.5l20,-11.5l10,-7l28,-14l8,-4.5l2.5,-3.5l0.5,-2l-0.5,-2l-2,-4l-4.5,-5.5l-2.5,-4.5l-1,-6l-0.5,-4l3,-16l0.5,-8l-0.5,-10l1.5,-10l3.5,-6l3.5,-14l2.5,-5.5l4,-6l3.5,-2.5l4.5,-2l4,0l4,1.5l2,2l4,7.5l3.5,5l2,2l4.5,2.5l10,3l6,1l6,-1.5l6,-3l3.5,-4l1.5,-6l-1,-12l0,-18l1.5,-16l2.5,-8z"/>
<path fill="#ffff00" fill-rule="evenodd" d="M414,55.5l1,-1.5l261,0l0,512l-552,0l0,-196l1,-2l0,-2l3.5,-4l1.5,-3.5l2,-2.5l4,-2l2,-4l0.5,-4l1.5,-4l0,-2l4.5,-16l0.5,-4l1,-2l1,-6l3.5,-10l5.5,-8l0.5,-4l1.5,-2l2,-1.5l2,0l2,1l2.5,2.5l1.5,0.5l2,-1l1.5,-1.5l1,-2l-0.5,-6l1,-2l1,-1l2,-0.5l2,1l2,1.5l2,3l2,0.5l2,-0.5l4,-3l4,-5l6,-4l4,-6l2,-2l6,-1.5l6,-4l4,-1l8,0l14,-4l16,-0.5l6,-1.5l20,-11.5l10,-7.5l6.5,-2.5l21.5,-11l9,-5l3,-4l0.5,-2l-0.5,-2l-1,-2l-5,-6.5l-3.5,-5.5l-1,-4l-0.5,-6l3,-16l1.5,-18l4.5,-10l4,-18l2,-5.5l4,-5l2,-1.5l4,-1.5l2,0.5l2,1l1.5,2l4,8l2.5,3.5l4,2.5l4.5,2l11.5,2.5l8,1l4,-0.5l3.5,-1l6.5,-4l4,-5l2,-7l-1,-12l0.5,-20l1.5,-14l3,-8.5z"/>
<path fill="#ffef00" fill-rule="evenodd" d="M418,54.5l258,-0.5l0,512l-552,0l0,-183.5l2,-2.5l-2,-2l0,-3.5l2,-2l1.5,-2.5l2,-6l1.5,-2l2,-2l2.5,-4l2.5,-1.5l4.5,-14.5l6,-26l5,-12l2.5,-2.5l5.5,-3.5l0.5,-1l4,-1l4,-1.5l6,-6l8,-2l5,-2.5l3,-2.5l2.5,-3.5l4,-2l2.5,-2l5.5,-8l5.5,-2l6,-4.5l4,-1l8,-0.5l14,-4l16,-0.5l6,-1l20,-12l10,-7.5l8,-3l22,-11l8,-5l3,-4l0.5,-4l-2,-4l-5,-6l-2.5,-4l-1.5,-4l-0.5,-6l3,-12l2.5,-20l1,-2l4,-6l2.5,-6l1.5,-6l1.5,-10l2,-3l2,-1.5l2,-0.5l2.5,1l5,8l4.5,3l10,3l16,2.5l6,0l4,-0.5l4,-2l5.5,-4l2.5,-2.5l2,-3l2,-6.5l0,-4l-0.5,-24l0.5,-12l2,-10l2,-5l2,-2.5zM162,291.5l0,1.5l-1,-1l1,-0.5z"/>
<path fill="#ffdf00" fill-rule="evenodd" d="M422,56l4,-0.5l4.5,-1.5l245.5,0l0,512l-552,0l0,-182l5.5,-4l-4.5,-4l4.5,-4l1,-2l3,-8l3.5,-4l3,-2l5,-16l5,-24l4.5,-12l1.5,-2l2,-1.5l12,-6l6,-5.5l8,-2.5l6,-3.5l6,-6l4,-2l2,-1.5l4,-6l2,-2.5l4,-1l3,-4l3,-2l4,-0.5l8,-0.5l9,-3l5,-1l14,-0.5l8,-1.5l4,-2l16,-10l10,-7l6,-2l4,-1.5l26,-14l3.5,-2.5l3,-4l0.5,-4l-2,-4l-5,-6l-4,-6l-1,-8l3,-8l3.5,-20l1,-4l7.5,-12l2,-2.5l4,-2.5l10,-0.5l26,3.5l8,-0.5l4,-0.5l4,-1.5l8.5,-7.5l4,-6l1.5,-6l-0.5,-32l1.5,-14l3,-8l2,-1.5l2,-0.5zM449,182l-3,3l-0.5,1l0,2l2.5,2l4,0.5l2,-1l2,-2.5l1,-3l0,-2l-1,-1l-2,-0.5l-5,1.5z"/>
<path fill="#ffcf00" fill-rule="evenodd" d="M432,56l3.5,-2l240.5,0l0,512l-552,0l0,-176.5l2,-0.5l0.5,-1l-0.5,-4l2,-2l2,-0.5l1,-1.5l-2,-4l3,-3.5l2,-2.5l2.5,-8l1.5,-2l3,-2l6,-18l2,-12l3,-12l2,-6l3,-6l13,-8l6.5,-6l9.5,-3.5l7,-4.5l3,-3l5.5,-3l2,-2l4.5,-6.5l4,-2.5l4,-4.5l2,-1.5l4,-1l8,0l10,-3.5l4,-1l14,0l8,-1.5l6,-3l14,-9l10,-7.5l6,-1.5l4,-1.5l28,-14.5l3.5,-3l2.5,-4l0.5,-4l-1.5,-4l-5.5,-6l-4,-6l-1,-8l3,-8l3.5,-18l3,-6.5l2,-3l4,-4.5l4,-2l12,-2l12,0l12,1.5l4,0l10,-2l6,-4l9,-9.5l2,-4l1,-3.5l0.5,-12.5l-0.5,-12l0,-14l0.5,-4l1.5,-5.5l2,-4l2,-2l10,-4.5zM454,174l-6,3l-7.5,5l-4,4l0,2l1.5,3l4,3l8,3l4,0l4,-2.5l4,-5.5l3,-7l0,-4l-0.5,-2l-1.5,-2l-3,-1l-2,0l-4,1z"/>
<path fill="#ffbf00" fill-rule="evenodd" d="M438,55l2,-1l236,0l0,512l-552,0l0,-170l1.5,-4l3,-2l1,-2l0.5,-4l2.5,-2l-0.5,-5l2.5,-3l2.5,-4l4,-10l2,-2l5,-14l3,-16l2,-10l2,-6l3,-6l2,-2l12.5,-8l5.5,-5.5l8,-3l17.5,-11.5l6.5,-8l4,-3.5l4,-4.5l2,-1l10,0l8,-3l6,-1.5l14,-0.5l8,-1.5l6,-3l14,-9l10,-7l2,-1l4,-0.5l6,-2.5l26,-13.5l5.5,-4l3,-4l0.5,-4l-2,-4l-5.5,-6l-4,-6l-1.5,-8l3,-8l3,-13.5l4,-8l4,-4.5l6,-2.5l10,-2l8,-0.5l18,1l4,-0.5l8,-3l6,-3.5l10,-11l2.5,-4l1.5,-4l1.5,-14l-1.5,-14l0,-10l0,-4l1,-4l3,-5l3,-3l5,-3l8,-4zM628,110l-3.5,4l-6.5,8.5l-1,3.5l0.5,2l0.5,1l6,-5.5l11,-5.5l3,-2l1,-4l-1,-2.5l-4,-1.5l-2,0.5l-4,1.5zM613.5,138l-1.5,2l0,3.5l2,-0.5l1,-3l-0.5,-2l-0.5,-0.5l-0.5,0.5zM458,168l-8,3.5l-17.5,10.5l-2,2l-1,2l0,2l1,2l3.5,3.5l14,8.5l4,2l2,0l2,-1l2,-1l4,-5l5.5,-9l2,-6l0,-6l-1.5,-4l-1.5,-2l-3,-2l-5.5,0z"/>
<path fill="#ffaf00" fill-rule="evenodd" d="M442,55.5l2.5,-1.5l231.5,0l0,512l-552,0l0,-162.5l2,1l0.5,-0.5l-0.5,-2l0.5,-2l2,-6l2.5,-2l0,-2l6,-8l-1,-2l0,-2l3,-4l3,-10l1.5,-4l2,-2l4,-12l1.5,-6l1,-10l2,-10l2.5,-8l1.5,-2.5l2.5,-3.5l14,-10l3.5,-3.5l12.5,-6.5l14.5,-10l9,-9.5l4,-5.5l2,-1l10,0l12,-4.5l18,-0.5l8,-2.5l20,-12l8,-6.5l2,-0.5l4,-0.5l6,-2l28,-14.5l6.5,-4.5l3,-4l0.5,-2l-1,-4l-2.5,-4l-4.5,-3.5l-2,-2.5l-3,-6l-1.5,-6l3,-8l2.5,-10l3,-6l2,-2.5l4,-3.5l4,-1.5l10,-2.5l10,-0.5l14,2.5l4,0l2,-0.5l7.5,-5.5l6.5,-3.5l2,-2l11.5,-14.5l3,-6l1.5,-14l-1.5,-14l0,-12l0.5,-4l1,-2l2.5,-4l4,-4l13.5,-6.5zM663,92l-3,1.5l-8,0.5l-4,0.5l-3,1.5l-7,4.5l-8,3l-4,2.5l-4,3.5l-8,10l-4,8.5l-5.5,20l0.5,10l2,10l0.5,6l0.5,2.5l2,0.5l1.5,-3l6,-22l7.5,-22l3,-3.5l12,-7.5l8,-9l12,-9l6,-3l3,-2l0,-2l-1.5,-2l-1.5,-0.5l-3,0.5zM459.5,164l-6,2l-17.5,10l-6,2.5l-7,1.5l-3.5,2l0,2l0.5,2l3,4l5,4.5l13,7.5l4,4l5,6l2,1.5l2,0l2,-1.5l6,-7.5l8.5,-14.5l2.5,-8l0,-8l-1,-3l-1.5,-3l-2,-2l-2.5,-1.5l-4,-0.5l-2.5,0z"/>
<path fill="#ff9f00" fill-rule="evenodd" d="M446,55.5l2.5,-1.5l164,0l3.5,3.5l4,2l4,1.5l4,0.5l8,0.5l30,-2.5l10,0l0,27.5l-2,-0.5l-8,0.5l-8,2l-12,2l-10,4l-6,3.5l-6,4.5l-4,3.5l-6,7.5l-11.5,18l-2,18l2.5,30l1,3.5l3,6.5l1,1l2,0l2,-2l4,-8.5l5,-26.5l4,-14l4,-10l3,-2.5l8.5,-5.5l11.5,-9.5l8.5,-6.5l5.5,-3l7,-3l3,-2l0,468l-552,0l0,-159.5l6,-2.5l1.5,-6l-0.5,-2l4,-4l0.5,-2l4.5,-6l0,-4l3,-4l1,-10l1.5,-4l1.5,-2l5,-15l2,-17l1.5,-8l2.5,-8l4,-5l14,-10.5l4,-4l12,-6.5l14,-9.5l8,-8l5,-6.5l3,-1l8,0l8,-3l6,-1.5l16,-0.5l8,-2.5l20,-12.5l8,-6l2,-0.5l6,-0.5l4,-1.5l30,-15.5l8.5,-5l2,-2l1,-2l0.5,-2l-1,-4l-3,-4l-8,-7l-2.5,-5l-1.5,-6l4,-14l3,-6l3,-3.5l2,-1.5l6,-2.5l12,-3l8,0l8,2l10,3.5l4,2l3.5,3l1.5,2l13,22l4.5,6l8,6l11.5,7l3,3l3.5,6l0.5,4l0,4l1,2l2,1.5l2,0.5l4,-1.5l3,-2.5l5,-6l4.5,-6l10,-20l2,-8l-0.5,-6l-1.5,-6l-2.5,-3.5l-3,-2.5l-3,-1l-4,-0.5l-4,1l-6,2.5l-16,9l-6,1.5l-6,-0.5l-6,-2l-6.5,-4l-11,-10l-1.5,-2l-1.5,-4l0.5,-4l1,-2l7,-6l14,-18l2,-4l1,-4l1,-10l-1.5,-24l0.5,-6l1,-3.5l3.5,-4.5l2.5,-2.5l16,-8z"/>
<path fill="#ff8f00" fill-rule="evenodd" d="M450,55l2,-1l154.5,0l5.5,7l6,4l20,6.5l13.5,2.5l4,2l1.5,2l-1.5,2l-4,2l-9.5,3l-4,2l-6,4l-8,7l-10,11l-5,7l-5,8l-4,5l-1,5l-2,14l1,28l-0.5,8l-1.5,5.5l-2,4.5l-2,3l-2,1.5l-4,1l-8,-0.5l-3.5,1l-0.5,2l1,2l11,14l8,8.5l6,4.5l2,3.5l2,0l4,-5l14,-29.5l0.5,-4l-1,-16l2,-20l2,-12l5.5,-16l3,-3.5l10,-5.5l20.5,-15l5.5,-3l6,-2.5l0,463.5l-552,0l0,-153.5l5.5,-6.5l4.5,-1l1.5,-5l0,-2l0.5,-1.5l4,-6.5l4.5,-4l2.5,-4l1,-6l-1,-4l0.5,-6l6.5,-21.5l1.5,-16.5l2,-8l2.5,-8l3,-4l4.5,-4l8.5,-6l4,-4l12,-6.5l14,-9.5l7,-6l5,-7l2,-2l10,-1l12,-4.5l4,-0.5l12,0l10,-2.5l6,-3l16,-10.5l6,-5l2,-0.5l6,-0.5l4,-1.5l36,-17l6,-3.5l4,-5l1,-2l0,-4l-1,-2.5l-2,-1.5l-12,-8.5l-3,-5.5l-1,-4l2,-7.5l2,-5.5l2,-4l2,-2.5l3,-2.5l7,-3l10,-2l10,0l6,1.5l10,5l4,3l4.5,5.5l5,8l5,10l2.5,4l5,4l15,10l3.5,4l1.5,2l0.5,4l-1,10l0,2l2,2l4.5,1l4,-0.5l6,-2.5l4,-3l8,-9l4,-5.5l9.5,-20.5l2,-8l-0.5,-6l-1.5,-6l-2.5,-4l-3,-3.5l-2,-1l-4,-1.5l-4,0l-8,2l-12,7l-6,2.5l-4,1l-6,0l-8,-3l-6,-3.5l-6.5,-8l-2,-4l-0.5,-2l1.5,-4l3.5,-4.5l3.5,-5.5l9.5,-12l3.5,-6l1,-6l1,-10l-1.5,-20l0,-6l1,-4l2.5,-4l4,-4l17.5,-9z"/>
<path fill="#ff8000" fill-rule="evenodd" d="M454,55l2.5,-1l110,0l19.5,0.5l12,-0.5l3.5,2l4,6l4,4l14.5,7.5l3,2.5l2.5,4l0,2l-1.5,4l-20,26l-10.5,18l-4,18l0.5,14l-0.5,12l-1,6l-2,4l-2.5,3.5l-4,2l-6,0.5l-14,-1l-4.5,1l-1.5,2l0,2l2.5,4l3.5,4l14,12.5l11.5,13.5l10.5,16.5l2,1l4,-1.5l4,-4l5,-10l5.5,-10l4.5,-6l8,-10l2.5,-4l0.5,-4l-1,-2l-5,-5.5l-2,-4l-1.5,-8.5l1,-22l4.5,-18l1.5,-4l2.5,-2.5l8,-2.5l14,-9l12,-9.5l6,-3l0,460.5l-552,0l0,-140l7,-2l3.5,-2l0,-2l1.5,-2l1,-2l0.5,-8l2.5,-2l-0.5,-4l0.5,-3l1.5,-3l2.5,-2.5l6.5,-3.5l1.5,-1l2,-3l1.5,-8l-0.5,-2l-3.5,-6l-0.5,-6l1,-6l3,-8l1,-6l0.5,-12l2.5,-12l1.5,-6l1.5,-2l2,-3l4,-3.5l10,-7.5l2,-2.5l5.5,-3.5l8.5,-4l5.5,-4l1.5,-2l6.5,-4l7.5,-6l5,-6.5l2,-1l8,-1l8,-3.5l6,-2l14,0l6,-1l4,-1l8,-4.5l20,-14l2,-1l6,0l4,-1l20,-9.5l19,-8l6.5,-4l6,-6l4,-6l-1,-6l-2.5,-3l-6,-2l-8,-1l-4,-2.5l-2.5,-3.5l-1,-4l0,-2l1.5,-5.5l4,-7l2,-2.5l4,-3l6,-2l12,-2l10,1l7.5,3l5.5,4l5,5.5l4,6.5l3,6l1.5,6l2.5,4l3,2.5l8,4l5.5,3.5l4.5,3.5l2,2.5l1,2l0.5,4l-0.5,2l-4,10l0.5,4l1.5,2l5,2l4,0.5l4,-1l8,-3.5l6,-4l6,-6l8.5,-10l4,-10l5,-10l2,-8l0.5,-4.5l-1,-7.5l-3,-6l-3,-4l-3,-2.5l-4,-1.5l-4,0l-6,1l-6,1.5l-14,7.5l-6,1l-8,-0.5l-6,-2l-4,-2.5l-2,-1.5l-3,-4.5l-2,-6l0.5,-4l1.5,-2l3.5,-6l11,-14l3.5,-8l2,-14l-1.5,-20l0,-6l1,-4l3.5,-4.5l4.5,-3.5l17.5,-9z"/>
<path fill="#ff7000" fill-rule="evenodd" d="M458,56l4,-2l11,0l15,1.5l18,-0.5l12,1l42,1l18,2l6,1.5l12,5l19.5,10.5l3,2l1.5,1.5l1,4.5l-1.5,4l-17.5,28l-6,12l-4,11l-2.5,3l-1,2l0,4l1,14l-2,14l-1.5,3l-4,3.5l-2,0.5l-4,0l-12,-2.5l-14,-5l-4,-0.5l-2,0.5l-2,1.5l-1.5,3l0,2l1.5,4l5,6l27,22l12.5,14l8.5,14l1.5,4l1.5,6.5l4,9l1,-7.5l2,-4l7,-7l7,-13l10,-14l15,-15l14,-12l18,-10l0,387l-552,0l0,-133l14,-3l3.5,-2l1.5,-10l1.5,-4l1.5,-2.5l4,-3.5l1.5,-2l1.5,-6l3,-7l4,-13l0.5,-6l-1,-4l-4.5,-4l-1,-2l0,-4l3,-10l1,-16l1,-6l3,-12l2,-4l5.5,-6l12.5,-10l2,-1l2,-1.5l4,-1l2,-2.5l2,0l4,-3l2,-1l1,-2l2,-2l12,-8l7,-7l2,-1l6,-1l5.5,-3l6.5,-2.5l4,-0.5l12,0.5l10,-2l8,-4.5l14,-9.5l6,-4.5l2,-1l6,0l4,-1l14,-6l28,-11l12,-8l6,-3l14,-1l6.5,-2l-0.5,-1l-6,-1l-3.5,-2l-2.5,-3.5l-1,-2.5l-0.5,-2l0,-4l5.5,-7l2,-1l-2.5,-2l-9.5,-1.5l-10,2l-8,4l-4,1l-4,-1l-2,-2l-1,-4.5l1,-3.5l2,-3.5l4.5,-5l3.5,-2.5l4,-2l4,-1l10,-1l8,0.5l5,2l5.5,4l6,8l3.5,7.5l0,2.5l-2.5,4l0.5,10.5l2,1l6,0l10,1l7,3.5l4,4l1.5,4l-0.5,2l-5,8l-0.5,4l2,6l3.5,4l4,2l4,1l6,-1l8,-3.5l10,-7.5l12.5,-13l3.5,-4l3.5,-10l4.5,-10l2,-8l0.5,-4l-1.5,-10l-2,-4l-3,-4l-4,-4l-4,-2l-2,0l-6,0l-10,2.5l-14,7l-6,0.5l-8,-0.5l-6,-2l-4,-3l-2.5,-4.5l-1,-4l0.5,-4l9,-14l5.5,-8l4,-10l2.5,-14l-2,-18l0.5,-6l1,-4l3.5,-4l5,-3.5l18,-8.5zM528,132l-4,4l-1,4l1,2.5l2,2l4,2l4,1l2,-1l3,-4.5l0.5,-2l-1,-4l-3.5,-4l-3,-1.5l-2,0l-2,1.5zM674,110l2,-1l0,47l-2,-0.5l-4,1l-10,4l-3.5,3.5l-14.5,17.5l-2,1l-2,0l-2,-0.5l-2,-2l-1.5,-4l-1,-20l1,-8l2,-10l1.5,-3.5l2,-1.5l6,-2l7.5,-5l10.5,-6l12,-10zM146,399l2,-0.5l1.5,1.5l-1,2l-1,0l-1.5,-0.5l-0.5,-1.5l0.5,-1z"/>
<path fill="#ff6000" fill-rule="evenodd" d="M462,57.5l8,0l16,2.5l6,0l14,-1.5l40,0.5l20,2l12,2.5l6,2l20.5,12.5l5,4l1.5,4l0,4l-1,4l-16,32l-2,3.5l-2,2l-6,2l-2,2.5l0,6l0.5,18l-0.5,2l-4,5l-0.5,1l1,2l-0.5,1.5l-2,2l-8,-1.5l-2,-1.5l-2,-0.5l-6,-5.5l-2,-3l-1,-5.5l-2.5,-8l-5.5,-14l-5,-8l-4,-3.5l-4,-2.5l-2,0l-4,1l-2,1.5l-2,3l-4,9l-1.5,7.5l0.5,4l1,4l2,3.5l2.5,2.5l4,10l1,12l1.5,6l5.5,6l17.5,11.5l16,11.5l5.5,5l9,10l9.5,16l0.5,2l-0.5,4l3.5,10l0,6l0.5,2.5l2,0.5l2,-1l2,-2l1,-2l3.5,-14l5.5,-6l7,-12l10.5,-14l12.5,-12l8,-6.5l12,-8l12,-6l0,380.5l-552,0l0,-129.5l10,-2l8,-1l4,-1.5l1,-2l-0.5,-10l1,-4l1,-2l6,-6l2,-4l2.5,-12l5,-18l0.5,-4l-1,-4l-1.5,-1l-3.5,-1l-1,-2l0,-4l1.5,-4l0.5,-4l-0.5,-16l2,-8l5,-12.5l6.5,-7.5l9.5,-8.5l6,-2.5l4,1.5l4,-0.5l1.5,-2l0.5,-2.5l1,-1.5l1,-0.5l1.5,-1.5l1.5,-4l2,-2l11,-6.5l10,-7.5l12,-5.5l4,-1.5l4,-0.5l12,0.5l10,-2l10,-5.5l12,-8.5l6,-5l2,0l4,0l6,-1l42,-16l12,-7l6,-2.5l6,-1l16,-0.5l18,-4.5l5,0.5l2.5,2l0.5,4l-2,8l1,4l2,4l2.5,4l4,4l4.5,3l4,1l6,-0.5l6,-2l6,-4l8,-6l14,-13.5l3.5,-4l2,-4l6,-16l3,-12l-1.5,-12l-1.5,-4l-3.5,-5l-3,-3l-3,-2l-4,-1.5l-6,-0.5l-6,1l-10,3l-10,4.5l-8,0.5l-7,-1l-5,-2l-2,-2l-1,-2l-1,-4l1,-4l3,-4l1.5,-4l9.5,-16l2.5,-6l2.5,-8l1,-6l0.5,-4l-2.5,-16l0.5,-4l0.5,-4l3,-4l5,-4l12,-5.5l8,-3zM674,115.5l2,-1l0,36.5l-6,1l-8,2.5l-16,7l-4,0.5l-2,-1.5l-3,-4.5l-0.5,-4l1,-6l2.5,-7l11.5,-9l12.5,-6.5l10,-8zM368,163.5l4,0l3,0.5l3.5,2l0.5,2l-2.5,2l-2.5,0.5l-14,3l-6,0.5l-3,0l0.5,-2l4.5,-4l4,-2l8,-2.5zM384,193.5l2,0l0,2l-2,0.5l-0.5,-2l0.5,-0.5z"/>
<path fill="#ff5000" fill-rule="evenodd" d="M458,62l4,-1l4,0l4,1l8,3l8,1.5l6,-0.5l12,-4l6,-0.5l14,-0.5l18,0.5l20,2l12,3l8.5,3.5l11,8l4,4l3.5,4l1,2.5l0.5,3.5l-1,8l-8.5,20l-3,5.5l-2,2l-2,1l-6,1l-0.5,0.5l0.5,4l-4,11.5l-2,3.5l-4,3l-6,-2.5l-4,-4.5l-2,-3.5l-8,-20l-3.5,-5.5l-4.5,-2.5l-6,-1.5l-4,0.5l-4,1.5l-6,3.5l-2,2.5l-5.5,24l-0.5,4l5,22l3.5,12l2,4l7.5,6l22,12l14,9.5l12,12l5.5,6.5l5.5,10l1.5,4l0,4l1,6l2,4l-0.5,10l-1,2l2,2.5l4,-1l4,-3.5l3.5,-6l1.5,-8l2.5,-6l4.5,-5l6,-10.5l12,-15l12,-11l8,-6.5l12,-7l10,-5l0,376l-552,0l0,-126l10,-2.5l12,-1.5l2,-0.5l1.5,-1.5l1,-2l0,-2l-1.5,-8l0.5,-4l2,-4l7.5,-8l3,-16l5,-20l0.5,-4l-1,-4l-4,-10l-1.5,-6l-0.5,-10l1.5,-7.5l4,-10.5l2,-3.5l3,-2.5l1,-2l3,-2l1,-2l4,-1.5l2,-2l2,0l2,-0.5l2,-2l4,0.5l4,-1.5l2,-0.5l6.5,-4.5l2,-2l0.5,-2l-2,-4l0.5,-2l2,-2l10.5,-5.5l20,-12.5l6,-1.5l14,0.5l10,-2l12,-6.5l5.5,-4.5l6.5,-4l4,-4l2,-0.5l2,0.5l2,0l2,-0.5l32,-10l32,-14.5l6,-1l6,0l18,0l4,1l2,1l5,8l11,12.5l6,4.5l6,2.5l6,-1l6,-2.5l6.5,-4l9.5,-7.5l12,-11l4.5,-5.5l3.5,-6l4.5,-12l3,-12l1,-6l-2,-12l-2,-4l-4.5,-6l-2,-2l-4,-2.5l-4,-1l-6,0l-6,1l-8,1.5l-12,4.5l-6,0.5l-6,-0.5l-4,-1.5l-2.5,-2l-1.5,-4l0.5,-2l3,-10l9.5,-16l4.5,-10l3.5,-10l0.5,-6l-2.5,-14l0,-4l1,-3.5l2,-2.5l4.5,-4l13.5,-6zM674,123.5l2,-1l0,24l-24,6.5l-4,0l-2,-0.5l-2,-2l-1,-2.5l0,-4l2.5,-4l1.5,-2l7,-5l11.5,-5l8.5,-4.5z"/>
<path fill="#ff4000" fill-rule="evenodd" d="M520,64l8,-0.5l18,1l16,2l10,3.5l10,5.5l4.5,4.5l3.5,4l4,8l1,4l-0.5,8l-4.5,12l-2,4l-3.5,4l-2.5,1.5l-4,0l-3,2.5l0,2l0.5,4l-2,4l-1.5,1l-2,0l-2,-1.5l-2,-2.5l-4,-7.5l-6,-16.5l-1.5,-3l-2.5,-2.5l-2,-1.5l-2,0l-14,1.5l-4,1l-2,1.5l-4.5,4l-5.5,4l-1.5,2l-1.5,4l0,6l-1,6l-4,12l-1,4l3,22l5,12l3,4.5l2,2l6.5,3.5l23.5,11l12,7.5l6.5,5.5l10,10l3,4l7,12l1.5,11.5l1.5,4.5l0,8l-1.5,4l0,2l0.5,2l-0.5,2l6,2l2,-1l2,-2.5l5,-6.5l2,-4l3,-10l2.5,-6l4.5,-6l5,-8l13.5,-16l18.5,-15.5l20,-10l0,371.5l-552,0l0,-122.5l10,-3.5l14,-2.5l3,-1.5l2,-4l0.5,-2l-2,-8l0,-4l2,-4l2.5,-3l4.5,-3l1,-2l0.5,-8l1.5,-8l6.5,-24l1,-10l-1,-4l-1.5,-4l-4.5,-7l-0.5,-5l0.5,-5l3.5,-11l2.5,-4l8,-6.5l12,-5.5l8,-3l12.5,-7l1,-2l0,-2l-2,-4l0,-2l2.5,-2l4,-2l10,-3.5l7.5,-6.5l5.5,-4l3,-1l4,-0.5l14,2l10,-3.5l8,-4.5l4,-2.5l4,-4l2,-1l4,-1l2,-1.5l2,-3l2,-1.5l4,0l6,-1.5l8,-1.5l14,-4.5l10,-2l16,-8.5l12,-4.5l4,-1l8,-0.5l8,1l6,0l4,0.5l4,2.5l20,19.5l4,3l4,1.5l4,0.5l6,-2l12,-7l11.5,-9.5l10.5,-9.5l4,-5l4,-6l7,-17.5l2,-10l0,-6l-1.5,-12l-2.5,-4l-5,-6l-6,-3.5l-4,-1.5l-6,-0.5l-6,0.5l-10,2l-14,4l-6,-0.5l-4,-1l-2,-1.5l-1.5,-2l0,-2l2.5,-10l17,-31l4,-6l4,-2l12,-1l16,-5l5.5,-3l4.5,-3.5l4,-5.5l5.5,-9l4,-4l4,-2l2.5,-0.5l12,-1.5zM261.5,280l-5.5,4l0.5,2l1.5,0.5l4,-2.5l1,-2l-0.5,-2l-1,0zM583.5,290l-5.5,6l-8,7l-12,6.5l-7.5,2.5l-1,2l4.5,2l7.5,-2l8.5,-3.5l13.5,-8.5l4.5,-5l3.5,-5l0,-2l-3.5,-1.5l-2,0l-2.5,1.5zM460,66l4,0l2.5,2l1,2l0.5,4l-8,9l-6,4l-4,1.5l-2,0l-2,-1l-2,-2.5l-1.5,-3l-0.5,-4l1,-2l3.5,-4l3,-2l4,-2l6.5,-2zM668,134l6,-1l2,0.5l0,5.5l-0.5,1l-3,2l-2.5,1l-12,3l-4,0.5l-2,-0.5l-2,-2l0.5,-2l1.5,-2l2,-1l6.5,-3l7.5,-2z"/>
<path fill="#ff3000" fill-rule="evenodd" d="M514,68l10,-1.5l18,0.5l18,2.5l5,2.5l11.5,8l6,6l2.5,4l2.5,6l0.5,4l-0.5,6l-2,4l-2.5,4l-5,3.5l-4,0l-3.5,-1.5l-2,-2l-8,-12l-2.5,-2l-4,-2l-4,-1l-4,0l-12,1.5l-4,1.5l-4,3.5l-4,6.5l-6,4l-4,6l-0.5,10l-1,6l-2.5,6l-2.5,4l-3.5,10l-2,2.5l-2,1l-2,0.5l-2,-1l-12,-8.5l-4,-2l-4,-1l-6,-1l-6,0.5l-26,4l-5,-1l-2.5,-2l-0.5,-2l0,-4l4,-10l6,-10.5l6,-8l2,-1.5l4,-2.5l10,-2l8,-2l12,-5.5l7.5,-4l5,-4l3.5,-4l6.5,-12l3,-4l3,-2l5.5,-2zM500,178.5l4,0.5l1,1l10,10l3,2.5l32,13.5l16,10l14,14l6.5,10l2.5,6l1,6l2,10l0,6l-8,14l-8.5,10l-5.5,4.5l-10,6.5l-6,2l-6,1l-6,0.5l-12,-0.5l-4,-0.5l-8,-2l-6,1l-1.5,1.5l-0.5,2l2,4l4,4l8,3l10,2.5l4,0l14,-2l6,-1.5l12,-5l16,-10.5l12,-14l7,-12.5l4.5,-6l7.5,-20l17,-21.5l8,-8.5l14,-11l6,-3.5l14,-6.5l0,367l-552,0l0,-119l11.5,-5l14.5,-3.5l3,-2.5l3,-4l0,-2l-2.5,-8l0,-4l2,-4l2,-2l2.5,-1l3.5,-1l0.5,-2l-0.5,-8l1.5,-10l6,-20l3.5,-14l0.5,-10l-3,-16l-0.5,-6l0.5,-4l1,-2l3,-3l5,-3l5,-1.5l20,-9.5l14,-2l14,-1l12,0.5l7.5,-0.5l8.5,-2l6,-2.5l2,-1.5l-0.5,-2l2,-4l1,-4l0.5,-2l-2,-10l1,-2l1.5,-2l12,-10l2.5,-2.5l6,-1.5l4,-4l8,-3l4,-0.5l6,0.5l4,-1l8,-3l4,-1l12,-0.5l6,-1l4.5,-2.5l3.5,-4l2.5,-2l5.5,-2.5l14,-2.5l16,0l6,2.5l10,9l8,8.5l6,4.5l6,2l8,-2l8,-5l9.5,-6.5l9,-8l10.5,-10l7,-10l3,-8l4.5,-8l4.5,-10.5l2,-3l2,-2zM242,269.5l2,-0.5l4,0.5l1,0.5l1,2l0,2l-2,2.5l-2,0.5l-2,0l-3,-1l-2,-2l0,-2l3,-2.5zM592,281.5l1.5,0.5l0,2l-1.5,0.5l-1.5,-0.5l0,-2l1.5,-0.5z"/>
<path fill="#ff2000" fill-rule="evenodd" d="M522,69.5l6,0l12,0.5l10.5,2l7.5,2l3,2l4,4l4.5,8l0.5,4l-2,1l-2,-0.5l-10,-2l-8,0.5l-18,1l-8,2.5l-1,1.5l0,8l-1,4l-5.5,4l-2.5,4l-2,2l-1,2l0,4l-2.5,4l0.5,2l-0.5,2l-1,2l-1.5,6l-4,7l-2,2.5l-2,1l-2,1l-4,-1l-12,-5l-6,-1l-8,0l-22,1.5l-4,-1l-2,-1l-1,-2l-0.5,-2l1.5,-6l3,-6l5,-6l6,-3.5l12,-4l6,-2l24,-12l4,-3l5.5,-5.5l2.5,-4l4,-10l3.5,-4l4.5,-2.5l6,-2zM502,189.5l4,1l11.5,5.5l28.5,10l16,9l6,5l11.5,12l6.5,11l2,5l2.5,14l0,4l-0.5,2l-5.5,6l-13,16l-7.5,6l-6,3.5l-8,2.5l-6,0.5l-6,0l-10,-1l-18,-6l-10,-7.5l-2,-0.5l-2,-0.5l-4,1.5l-12,6.5l-3.5,3l-1,2l-1,4l0.5,4l3,3.5l4,2.5l6,1.5l4,0l8,1l2,0.5l10.5,5l19.5,3l8,-0.5l14,-3l4,-1l14,-6.5l14,-10l12,-12l2,-3l7,-13l3.5,-4l2,-4l5.5,-16l2,-3.5l6.5,-6.5l11.5,-13l12,-11l10,-6.5l16,-7.5l0,362l-552,0l0,-115l12.5,-7l13.5,-4l7,-6l1.5,-2l0,-2l-2.5,-6l-1,-4l1,-4l2,-2.5l2,-1l2,0l2,1.5l1.5,4l2.5,2.5l2,-1l0.5,-1.5l-0.5,-2l-3,-6l-1,-4l-0.5,-8l1.5,-10l8.5,-26l1.5,-6l1,-10l-0.5,-8l0,-6l1,-6l1.5,-4.5l14,-9l12,-5.5l8,-1l14,-0.5l8,0l18,-0.5l11.5,-1l8,-2l5,-4l4,-8l-1,-2l0,-2l-3,-14l0.5,-4l1.5,-4l3,-4l4.5,-3.5l8,-3.5l4,-4l6,-2l4,-0.5l4,1l2,-0.5l10,-2.5l6,-1l14,2l8,-0.5l4,-1l2,-1.5l2.5,-2.5l4.5,-6l5,-3l8,-2.5l14,-1l6,1.5l1.5,1l10.5,10l7.5,8l4.5,3.5l4,2l2,0.5l4,0l4,-1l8,-4l8,-6l12,-10l8,-7.5l4,-4l7,-9.5l5,-10.5l4,-6l4,-4.5l4,-1.5z"/>
<path fill="#ff1000" fill-rule="evenodd" d="M524,74l7,0l13,2.5l2.5,1.5l1,2l-1.5,2l-4,1l-20,1.5l-4,-0.5l-2,-1l-1,-3l1,-2l2.5,-2l5.5,-2zM506,100l2,-0.5l4,2l1.5,2.5l0,2l-3.5,6l-12,13l-1,5l-0.5,10l-0.5,2l-2,2l-4,1.5l-16,-4.5l-8,-0.5l-10,0.5l-5,-1l-5,-2l-1,-2l0.5,-2l1,-2l3.5,-2.5l14,-6.5l16,-9.5l6,-2.5l6,-1.5l4,-2.5l6,-5l4,-2zM498,197l2,-0.5l12,1.5l20,5l14,5l16,9l13.5,13l4.5,6l5,10l3,15l0,3l-1,2l-5.5,4l-9,12l-6.5,7.5l-10,6.5l-6,2l-8,1l-10.5,-1l-8,-2l-7,-4l-2,-2l-1,-2l-0.5,-2l0.5,-4l2.5,-4l4,-3l7.5,-5l2,-2l0.5,-2.5l-0.5,-1.5l-2.5,-2l-3,-1.5l-4,-1l-6,0l-6,0.5l-10,2.5l-4,2l-4.5,3.5l-3.5,4l-4,7.5l-3,4.5l-1,2l-2,0.5l-0.5,1.5l-4.5,4l-3.5,4l-3,8l0.5,4l1,2l2.5,4l2,2l4,2l5.5,2l6,1.5l12,1l11,3.5l7,1l20,1l16,-3.5l6,-2l12,-6l12,-7.5l6,-5l12,-12l8,-14l8.5,-10l2,-6l1.5,-9l2,-3.5l9,-7.5l11,-12l12,-10l8,-4.5l14,-6.5l0,357l-552,0l0,-109l5,-5l7,-5.5l5.5,-2.5l8.5,-3l10,-7l1.5,-2l0,-2l-3,-6l-1.5,-4l1,-4l2,-2l2,0.5l2,4l4,4l3.5,-0.5l2.5,-2l0.5,-2l-4.5,-8l-2.5,-6l0,-6l0.5,-5.5l2,-8.5l7.5,-22l1.5,-6l1,-6l0.5,-14l1.5,-4l2.5,-4l11.5,-9l14,-4.5l18,-2.5l8,0l14,-0.5l28,2l4,-1l5,-2.5l4.5,-4l2,-4l2,-8l1,-6l-2,-6l-2,-6l-7,-8l-0.5,-2l0,-4l1.5,-2l3,-2l6.5,-3l6,-4.5l2,-1l4,-0.5l8,0l4,-1l6,-1l6,0l28,6.5l8,1l4,-0.5l4,-1.5l1.5,-2.5l-0.5,-4l-3,-4l-0.5,-2l0.5,-2l0.5,-2l2,-2l4,-2l3.5,-1l8,0l6,0.5l2,1.5l10,8.5l7,8.5l7,5.5l4,1l4,0.5l4,0l2,-1l6,-3l10,-6.5l14,-12l8,-8l11.5,-14.5l6.5,-12l4,-3zM463.5,272l-2.5,2l-2,4l-1,2l1,4l1,2l4,2l4,0.5l4,-1.5l2,-1l1.5,-2l2,-4l0,-4l-1,-2l-2.5,-2l-4,-1.5l-4,0.5l-2.5,1z"/>
<path fill="#ff0000" fill-rule="evenodd" d="M480,122l2,0l2,1l2,3l0,2l-1.5,6l-0.5,1l-2,0.5l-7.5,-1.5l-2.5,-2l0,-2l2,-4l2,-2l4,-2zM498,203l4,-0.5l10,0.5l14,1.5l14,3.5l8,3l14,8l9,9l4,4l2.5,4l4,10l-0.5,6l-1.5,6l-6.5,14l-2.5,4l-2.5,2l-1,2l-7,7l-4,2.5l-6.5,2.5l-7.5,1l-6,-1l-5.5,-2l-1.5,-2l0,-2l2,-2l9,-7.5l6,-6.5l0.5,-2l-1,-4l0,-2l1,-2l-2.5,-5l-2,0l-4,-3l-4,-2l-6,-1.5l-2,-0.5l-8,1l-2,-0.5l-10,1.5l-10,4l-16,8.5l-4,1l-8,0l-6,1.5l-6,3l-2,2l-2,3l-2,2l-2,3l-1,2l-0.5,8l1,6l1.5,4l-1,2l-6,1.5l-2,2.5l-1.5,0l6.5,4l1,2l14,8l8.5,4l15.5,4l12,1.5l12,2.5l6,0.5l20,0l8,-1l16,-5l14,-7l8,-5.5l6,-4.5l8,-8l6.5,-5.5l9.5,-16l2,-2l2,-1l2,0.5l4,4.5l2,0.5l4,-3.5l1,-3l-0.5,-4l-4,-14l0,-2l2,-4l9.5,-6.5l10,-9.5l12,-9.5l8,-4.5l12,-5.5l0,351.5l-552,0l0,-94.5l3.5,-5.5l2.5,-6l-0.5,-2l6.5,-8l5.5,-4l10.5,-5l12,-7.5l1,-1.5l-0.5,-2l-3.5,-6l-0.5,-2l1.5,-1.5l6,4l10,-1.5l1.5,-1l0.5,-2l-0.5,-2l-7.5,-10l-2,-4l-0.5,-4l0.5,-7l4,-16l3.5,-11l2,-4l2,-12l0,-8l0.5,-4l2,-3.5l4,-4.5l6,-5l4,-2l14,-3.5l10,-2l8,-0.5l8,0l10,0l4,0.5l12,3.5l6,0.5l16,-3l4,-1l4,-2.5l4,-3l3,-4l1,-4l-1,-4l5,-3l3.5,-3l2,-4l0.5,-2l0.5,-4l-1.5,-4l-4.5,-6l-13,-12l0.5,-2l10,-6.5l20,-3.5l8,0.5l10,2.5l6,2l6.5,3l5.5,4l14,11.5l4,2l2,-4.5l4,-2.5l2,-2.5l1.5,-4l0.5,-4l-0.5,-4l0.5,-4l-1,-10l2,-2l5,-0.5l4,0.5l7,4l3,2.5l6,8l6,5.5l4,2l8,2.5l8,-2l4,-2l6,-4l22.5,-20.5l12.5,-14l9.5,-14l3.5,-3z"/>
<path fill="#ef0000" fill-rule="evenodd" d="M516,208l14,0.5l14,3l16,8.5l6.5,6l4,4l3,4l2.5,6l1,4l0,4l-4,8l-1.5,6l-1.5,1.5l-2,-1.5l1,-2l-3,-2l0,-1l-2,2l-2,-2l-6,-0.5l-1,-2.5l0,-2l-6,-4l-2,-2l-7,-4.5l-4,-2l-4,-0.5l-6,-0.5l-8,1.5l-2,-1l-8,1.5l-8,2.5l-16.5,9l-3.5,1.5l-8,1l-4,0l-2,-1l-1,-1.5l0,-2l3.5,-6l11,-12l9.5,-12l2.5,-2l4.5,-6l4,-2.5l2,-0.5l14,-1zM566,254l0,1l0,-1zM674,221.5l2,-0.5l0,345l-522,0l-2,-0.5l-2.5,0.5l-5.5,-3.5l-1,-2.5l0.5,-2l-1.5,0l-4,4l-2,-0.5l-4.5,4.5l-7.5,0l0,-1.5l4,-3.5l18,-12l1,1l-1.5,2l0.5,3.5l4,-3l2,-1l2,1.5l2,3l2,0.5l2,-0.5l2,2l8,2l2,0.5l2,-1l12,0l2,-1l6,-3l10,-8l6,-5.5l2,-3.5l2,-1l10,-11l2,-1.5l4,-1l6,-2l3,-2l1,-2l0,-2.5l-3,-7.5l-1.5,-6l-0.5,-10l1,-2l0.5,-4l1.5,-2l-1.5,-2l0,-6l-1,-6l-2,-2l-0.5,-6l-1,-3l-0.5,7l-3,2l0,2l-0.5,6l-1,0l-1,-4.5l-2,1l-0.5,-0.5l0.5,-2l0.5,-6l1.5,-8.5l-0.5,-5.5l-1.5,-3l-2,-1.5l-4,-1l-2,0l-2,1l-4.5,4.5l-3.5,6l-1,8l-4,12l-0.5,4l0,6l-2.5,6l-3,4l-7,5.5l-12.5,6.5l-13,10l-12,12l-4.5,7.5l-2,1.5l-4,1.5l-10,0l-6,1.5l0,-60l2,-2l4,-2.5l5.5,-5.5l0.5,-2l0,-10l1,-6l3,-4l5,-4l13,-7.5l8,-3.5l1.5,-1l0.5,-2l-0.5,-4l2,-2l2.5,0l6,0.5l2,-0.5l3,-2l1,-2l0,-2l-1,-4l-9,-12l-1.5,-6l0.5,-6l5.5,-24l2.5,-6l1,-8l1,-4l0.5,-10l2.5,-4.5l10,-8.5l6,-2.5l16,-3l8,-1l16,0l8,1l14,5.5l6,1l20,-5l6,-2.5l4,-2.5l4,-4l4.5,-6l11.5,-11.5l2.5,-4.5l0,-2l-0.5,-6l-2.5,-6l-11,-12l-1.5,-4l0.5,-2l2.5,-2l8,-3.5l8,-1l8,1l8,2l6,2.5l3.5,3l4.5,6l2,4l1.5,6l1,10l0.5,2l3,2l2,0l2,-0.5l4,0l2,0.5l8,1l6,1.5l2,-1.5l2,-0.5l6,1.5l1,-2l-0.5,-2l1.5,-1l0,-3l3,-6l-0.5,-6l-1,-2l0,-2l3.5,-2l0,-2l-0.5,-4l1,-2l12.5,5l3,3l1,2l0,3l3.5,3l-3.5,1l-2,-1.5l-2,3l-0.5,5.5l0,2l-1.5,1l0,1l0.5,2l-2,6l1,2l2.5,2l0.5,-2l-2.5,-2l0.5,-2l2.5,-2l0,-2l2,-2l-0.5,-2l1.5,-1l1.5,1l1,2l-1.5,4l0.5,2l-2,6l1.5,2l-1,0.5l-2,-1.5l-1,1l1.5,2l-2.5,-0.5l-8.5,2.5l12.5,8l6,8.5l6,4l6,1l8,-0.5l16,0.5l20,3l30,3l18,-0.5l8,-1l18,-5.5l16,-8l6,-4l6,-5l9.5,-9.5l6.5,-5l6,-10l4,-5l2.5,4l1.5,1l3,1l8,0l3,-2l4.5,-4l3.5,-4l0,-2l-1,-4l-1,-2l-6,-5.5l-4,-5.5l-0.5,-1l0.5,-2l1.5,-4l10.5,-4l4,-3l7.5,-7l6.5,-5l8,-5l10,-4.5zM173.5,460l-1.5,2l2,1l2,-1l-1,-2l-1.5,0zM144,556l0,1.5l1.5,-1.5l-1.5,0zM402,251.5l0.5,0.5l-1.5,0l1,-0.5zM560,261.5l1.5,0.5l-1.5,1l0,-1.5zM564,262l2,2l-2,0.5l-1,-0.5l0,-2l1,0zM430,275.5l1.5,0.5l-1,6l-0.5,0.5l-4,-2.5l1,-2l3,-2.5zM424,281.5l1.5,0.5l-0.5,2l-1,1l-0.5,-3l0.5,-0.5zM222,469.5l1.5,0.5l-1.5,0.5l-0.5,-0.5l0.5,-0.5zM148,547l0.5,1l-0.5,0.5l-1,-0.5l1,-1z"/>
<path fill="#df0000" fill-rule="evenodd" d="M526,213.5l6,-0.5l12,1.5l11.5,5.5l4.5,3l8,8l2.5,5l1,6l0,2l-3.5,4.5l-2.5,-0.5l-2,-4l-1.5,-1l-2,1l-5,-6l-1,-2.5l-2,-1.5l-4,-2l-8,-3l-12,-1.5l-28,2l-6,1.5l-1.5,-1l3,-8l2,-2l3,-2l3.5,-0.5l2,-1.5l12,-0.5l8,-2zM672,229.5l4,-1.5l0,338l-422.5,0l-3,-14l-0.5,-6l2.5,-16l2,-10l1,-18l3.5,-22l0.5,-8l3,-26l0,-12l-3,-10l0,-2l1.5,-4l0,-2l3,-4l8,-8l2,-3l0.5,1l1.5,1l4,-4.5l0.5,-2.5l0,-2l0,-2l-0.5,-0.5l-0.5,2.5l-3,2l0.5,2l-1,0.5l-1,-0.5l-2,-4l-3,-4l-2,0.5l-2,-0.5l-2,-1.5l-4,-0.5l-4,0l-6,2l-4,2l-2.5,2l-1.5,2l-1,4l0,12l-0.5,2l-1.5,2l-5,1.5l-6,-1l-8,-3.5l-4,-1l-6,1l-4,2.5l-3,2.5l-6,10l-2,6l-3,4l-4,3l-18,10.5l-8,6.5l-2,1l-4,1l-10,-1l-2.5,-1l-1.5,-2l0,-2l0.5,-2l3,-4l3,-2l9.5,-5.5l10,-3.5l6,-4.5l1,1.5l3,1.5l2,0l2,-4l6,-3.5l1.5,-2l1,-2l-0.5,-4l-2,-4l-7.5,-12l-2,-6l0,-6l2,-22l2.5,-8l2,-12l-0.5,-4l1,-6l3,-4l7,-6l2.5,-1.5l11,-2.5l11,-1.5l10,0.5l14,0l8.5,3l2,2l3.5,4l4,6l0,2l-10,1l-10,-1l-6,1l-2,1.5l-1,1.5l-0.5,2l0,4l3.5,6l4,3.5l16,6l4,1l5.5,-2.5l1.5,-2l1.5,-4l0,-6l-2.5,-6l-0.5,-2l-1,-2l0,-2l1.5,-0.5l2,-2l8,-2.5l22,-10l10,-6.5l16,-12.5l6,-3.5l6,-2l2,0l2,0.5l2,3l0.5,4l-1,8l0,6l1.5,4l1,1l2,0.5l4,-0.5l4,-2l4.5,-5l7.5,-10.5l1.5,-1.5l2.5,-1.5l6,-1l4,1l2.5,1.5l1.5,2l0.5,4l-1.5,8l0,4l3.5,14l0,4l0.5,4l-1,6l0.5,2l3.5,1.5l6,0.5l8,-1l14,-3.5l1.5,-1.5l2.5,-1l8,-0.5l6,-1l19.5,-11.5l14,-4l10.5,-0.5l14,0l24,1.5l20,-2l20,-6l16,-8l6,-3.5l8,-7l8,-8.5l6,-4l8,-11l2,0l6,2.5l4,1l10,0l2,-2l8,-4.5l5.5,-4l13,-14l1.5,-0.5l1,-1.5l-1,-1.5l-2,-1l-2,-2l-2,-1l-2.5,-2.5l-2.5,-6l2,-6l3,-4l4,-4l4,-2.5l8,-4zM308,338l-6,1.5l-4.5,2.5l-3.5,4l-2,4l-0.5,4l2,6l2.5,3l4,2.5l6,0l4,-1l4,-2.5l5.5,-6l2.5,-6l0,-2l-2.5,-4l-2,-2l-5.5,-3.5l-4,-0.5zM273.5,406l0.5,0.5l0.5,-0.5l-0.5,-0.5l-0.5,0.5zM324,260l6,-1l4,0l8,2l2.5,1l1.5,1.5l2.5,4.5l0.5,4l-1,6l-2,4.5l-2,1.5l-2,0.5l-2,-0.5l-2,-1.5l-5,-6.5l-11.5,-10l-0.5,-2l0,-2l3,-2zM164,476l2,-1l4,-0.5l6,0l4,0.5l1.5,1l1.5,2l-0.5,4l-1,2l-3.5,2.5l-12,5l-6,3.5l-9,9l-7,8.5l-8,6.5l-2,1l-4,1.5l-4,-0.5l-2,-1.5l0,-20l3,-3.5l6.5,-6l12.5,-8.5l4,-2l10,-1.5l4,-2z"/>
<path fill="#cf0000" fill-rule="evenodd" d="M676,281.5l0,284.5l-397,0l-10,-32l-1.5,-12l0.5,-4l-0.5,-2l2,-8l1.5,-2l0.5,-12l-1.5,-4l-0.5,-8l0,-2l1,-2l1.5,-28l2,-12l6,-16l3,-6l4,-6l5,-5l4,-3l8,-4.5l2,1l4,-2l10,-13.5l2,-0.5l2,-2l2,-1.5l2,-2.5l4,-2l8,-1l2,1l2,-0.5l2,0.5l24,-0.5l28,-2l12,-0.5l14,-2l16,-3.5l24,-8l22,-13.5l6,-1.5l32,-1l30,-8l8,-3l14,-6.5l15,-10.5l3,-2.5l5.5,-7.5l4.5,-4l6,-7l2,-1l16,4l2,0l4,-1.5l4,0.5l10,-4.5l20,-5.5l8,-3.5zM445.5,420l-1.5,1l-4,9l-4,6l-2,2l-2,1l-2,-0.5l-4,-2.5l-12,-10l-4,-2l-2,0l-4,1l-6,3.5l-4.5,5.5l-2.5,6l0.5,4l0.5,2l2,2.5l4,3l4,1.5l4,0.5l6,0l8,-2l4,-1.5l8,-4.5l2,-0.5l4,1l10,5l4,1.5l4,0.5l4,-1l4,-3.5l2,-3.5l0.5,-5l-1.5,-6l-3,-5l-6,-5.5l-6,-3.5l-2,-0.5l-2.5,0.5zM316,436l-10.5,18l0.5,4l2,2l2,1l2,0l2,-1.5l3,-5.5l4.5,-4l2.5,-4l0,-4l-2,-6l-2,-1l-2,0l-2,1zM208,330l6,-0.5l5,0.5l3,2l0.5,2l-1,8l-2,2l-2.5,4l-1,2.5l-2,-1.5l-2,2.5l-2,1.5l-3,1l-1.5,2l2.5,2.5l4,0l3.5,1.5l1,2l-0.5,2l-2,3l-11,7l-7,2l-8,0l-2.5,-2l-1,-4l2.5,-18l0,-6l0.5,-4l3,-4l7.5,-5.5l4,-1.5l6,-1zM162,442l2.5,0l1.5,0.5l1.5,1.5l-0.5,2l-3,4.5l-2,1.5l-4,2.5l-4,0.5l-4.5,-1l-1.5,-2l0.5,-2l1.5,-2l6,-4l6,-2z"/>
<path fill="#bf0000" fill-rule="evenodd" d="M676,298l0,268l-365.5,0l2,-6l11.5,-13.5l4.5,-6.5l10.5,-14l3,-6l4,-10l1.5,-8l0.5,-12l-2,-6l-2,-2l-8.5,-18l0,-2l-3.5,-6l-1.5,-12l-2,-6l-1.5,-4l-3,-3.5l-2,-1l-4,-0.5l-4,5.5l-5,9.5l-6.5,10l-0.5,6l0.5,2l4.5,8l2.5,6l0.5,4l-1,4l-1.5,2l-3.5,3.5l-6,2l-6,0l-2,1l-4,-1.5l-3,-3l-1,-2l0,-2l-2.5,-6l-1,-6l0,-10l1.5,-22l2,-8l3,-8l3.5,-6l5.5,-6.5l4,-2.5l4,-1l6,2.5l6,7l4,0l4,-0.5l2,-0.5l2,-1.5l3.5,-5l1,-2l-1,-2l2,-6l1.5,-4l2.5,-2l2.5,-1l2,-2.5l4,-3l2,-0.5l2,0.5l2,-2.5l4,0.5l10,-2.5l24,-3.5l22,-0.5l20,-3l8,-2l18,-6.5l18,-5.5l12,-6l6,-2l4,0l6,0.5l4,2l4,-2.5l12,-1.5l6,-2.5l2.5,-2l9.5,-4.5l8,-2.5l10,-2l8,-2l10,-5l6,-2l8,-5l6,-5.5l8.5,-13.5l5.5,-6l2,-1l4,0l14,2.5l6,0.5l18,-3l22,-1zM609.5,346l-4.5,2l-3,2.5l-4,0.5l-4,0l-2,-3.5l-12,0l-6,0.5l-6,2.5l-6,3.5l-5,4l-5,8l-2.5,10l-1.5,4l0.5,4l0.5,2l1,1l4,2l4,0.5l10,-1.5l8,-4.5l4,-3l10,-10.5l5.5,-4l6.5,-1l10,1.5l6,-0.5l8,-3.5l6,-4.5l1.5,-2l0,-2l-1.5,-2l-2,-1l-2,-0.5l-2,-1l-6,-4l-4,-1l-6.5,1.5zM440,406l-4,2l-8,7l-2,1l-2,0l-10,-2l-6,0l-7,2l-3.5,2l-5.5,4l-6,6l-4,6l-1.5,4l-0.5,8l2,6l4,4l4,2l18,3.5l6,0l14,-2.5l8,-0.5l4,0.5l12,3.5l8,0l6,-1.5l4,-2l4,-5l1.5,-4l0.5,-4l-1.5,-10l-3,-8l-6,-8l-5.5,-5l-6.5,-5l-7.5,-4l-4,-0.5l-2,0.5zM309.5,424l-0.5,2l1,1l1,-1l0,-2l-1,-0.5l-0.5,0.5zM299.5,440l0.5,0.5l1,-0.5l-1,-0.5l-0.5,0.5zM196,340l4,-1.5l2,0.5l1,1l0.5,2l-9.5,14.5l-2,-1.5l-0.5,-9l0.5,-2.5l4,-3.5z"/>
<path fill="#af0000" fill-rule="evenodd" d="M616,309.5l2,-0.5l4,0.5l18,4l14,-2l6,1l4,1.5l5.5,4l2,4l0.5,4l-1.5,6l-2.5,3l-4,1.5l-6,-1l-10,-5.5l-4,-1l-2,-0.5l-4,1l-8,3.5l-4,0l-3,-1l-7,-3l-7,-5l0,-6l1,-2.5l2.5,-3.5l1.5,-1.5l2,-1zM464,372l12,-1.5l8,0l6,2.5l7,5l2.5,4l2.5,6l-1,2l0,2l-1,4l-1.5,4l6,18l2.5,6l3,4l4,3l4,1.5l4,0l12,-5l10,-2l8,-0.5l20,1.5l6,-1l6,-1l10,-3l8,-3.5l4,-0.5l2,-2l16,-8.5l15.5,-7l6.5,-2l8,-0.5l14,2.5l8,0.5l0,165.5l-325,0l4,-14l5,-10l2.5,-4l11.5,-12l6.5,-8l3.5,-8l6,-17l1.5,-1l0.5,-2l2,-1.5l4,-5l4,-2.5l10,-4l14,-4.5l8,-1.5l6,-0.5l30,4l8,-0.5l6,-2l3,-2l3,-6l1.5,-6l0,-8l-2,-8l-2,-6l-4.5,-8l-7,-10l-5,-6l-5,-4l-8,-4.5l-6,-2.5l-6,-1l-6,0.5l-16,3l-16,2l-8,2l-8,3.5l-12,9l-6,6l-7.5,12l-6.5,13l-4,3l-2,1l-2,-3l-2,0l-4,-1l-4,-3l-5,-6l-3.5,-8l-1,-6l0,-6l1.5,-4.5l8,-12l6,-5l4,-2l4,-2.5l10,-3.5l14,-3l16,-2l18,-1.5l20,-3.5l8,-2l16,-7l6,-1.5zM300,415.5l4,0l3,2.5l0.5,2l-5.5,10l-3.5,4l-3,4l-0.5,2l0,2l3,2.5l2,0.5l2,-0.5l2,-1l1,0.5l-4.5,8l-3,8l2,8l-0.5,4l-0.5,2l-2.5,3l-4,0.5l-2,-1l-2.5,-2.5l-1.5,-6l1,-20l1,-12.5l2,-7.5l3,-6l3,-4l4,-2.5zM312,431.5l0,1l-4,7.5l-1.5,0l1.5,-6l2,-1.5l2,-1zM306,440.5l0,2.5l-0.5,-1l0.5,-1.5z"/>
<path fill="#9f0000" fill-rule="evenodd" d="M420,392.5l2,0l1.5,1.5l-1.5,2l-2.5,0l-1,-2l1.5,-1.5zM356,407.5l6,-0.5l2,0l3.5,3l0.5,2l0,2l-2,3l-4,2l-4,3.5l-6,2.5l-2,-0.5l-2,-1l-0.5,-1.5l-0.5,-4l1,-4l3.5,-4l4.5,-2.5zM636,460l4,-1l4,1l2,2l0,4l-0.5,6l-2.5,4l-5,6l-4,3l-4,1.5l-4,0.5l-6,-0.5l-7,-2.5l-4.5,-4l-1,-2l-0.5,-4l2,-4l3,-3l2,-1l5,-2l17,-4zM444,496.5l4,0.5l4,1l4,5.5l1.5,2.5l-1.5,0.5l-2,-1.5l-3.5,1l0,2l-1.5,2l-1,4l-2,3l-1,5l0.5,4l0,2l1.5,2l-1.5,4l-0.5,4l1,4l2,4l3.5,4l0.5,2l4,2.5l2,2.5l8,4l10,2l2,-0.5l1,-0.5l-0.5,-2l1.5,-1.5l8,-2.5l2,0.5l2,-1.5l2,0l2,-0.5l2,0l2,1.5l4,0l4,1.5l2,-0.5l2,0l5.5,3l2.5,2.5l2,-1l5.5,4.5l-149,0l0.5,-10l1,-4l2,-4l3,-4l9.5,-10l7.5,-12l6,-3.5l16,-7.5l2,-0.5l5.5,-4.5l2.5,-1l5.5,-3l2.5,-1l2,-4.5zM449.5,504l0.5,1l0,-1l-0.5,0zM672,559.5l4,-1l0,7.5l-13,0l5,-1.5l2,-4l2,-1zM556,563.5l2,0.5l1,2l-2.5,0l-0.5,-2.5z"/>
<polygon fill="#fff" points="124,55 358.8,55 358.8,63.5 350.2,63.5 350.2,71 333,71 333,78.5 324.4,78.5 324.4,86 315.8,86 315.8,93.5 307.2,93.5 307.2,146 298.6,146 298.6,161 290,161 290,221 281.4,221 281.4,228.5 229.8,228.5 229.8,236 212.6,236 212.6,243.5 204,243.5 204,251 186.8,251 186.8,258.5 178.2,258.5 178.2,273.5 169.6,273.5 169.6,288.5 161,288.5 161,303.5 152.4,303.5 152.4,386 143.8,386 143.8,453.5 135.2,453.5 135.2,468.5 124.9,468.5 124,468.5"/>
<path d="M195.2,55V563.5M265.8,55V563.5M336.4,55V563.5M407,55V563.5M477.6,55V563.5M548.2,55V563.5M618.8,55V563.5M124.5,106.2H675M124.5,191.1H675M124.5,275.9H675M124.5,360.6H675M124.5,445.4H675M124.5,530.2H675" stroke="#b4b4b4" stroke-width="1" stroke-dasharray="1.7,4.4" fill="none"/>
<g clip-path="url(#wm)"><path d="M124,212l2,-0.5l3,2.5l1,2l2,1l6,-0.5l2,-0.5l4,0l-1,-2l1,-1.5l12,0.5l2,-1l2,0.5l4,0.5l2,-1.5l4,2l6,1l2,-0.5l8,2.5l12,-0.5l22,2l4,1.5l6,0.5l14,-0.5l12,0.5l16,-2.5l8,-2.5l3.5,-3l3,-6l2,-16l8,-16l0.5,-8l-1,-2.5l-4.5,-3.5l-3.5,-4l-0.5,-2l-3.5,-2.5l-3,-3.5l-1.5,-4l-2.5,-2l-4,-8l-4.5,-6l-3,-8l-2.5,-2l-1.5,-6l-4.5,-10l1,-2l-1,-4l1,-0.5l2,0.5l-1.5,-4l-1,-8l-1.5,-1l-3.5,-5l3.5,-1l2,1l0.5,0l-0.5,-2l-2,-1.5l-3.5,-4.5l-1,-6l-1.5,-1l-2,-3l-1.5,-6M124,219.5l2,2.5l0.5,0l0,-2l-1.5,-2l0,-4l-1,-2M218,148l2,0.5l2,0.5l1.5,1l-0.5,2l-1,1l-2,-2l-2,0l-1,-1l1,-2M124,224l2,0l4,1.5l0.5,-1.5l-3,-6l0.5,-1.5l6,3.5l2,-0.5l4,1l6,-1.5l0.5,-1l-0.5,-2l4,0.5l2,-1l2,1.5l4,0l4,-1.5l2,1l2,-2.5l2.5,2l5.5,2.5l4,-0.5l2,1l2,-0.5l6,1.5l6,-0.5l8,0.5l30,3l26,0.5l10,-1.5l7.5,-2l6.5,-3l4.5,-3l1.5,-3l2,-7l1,-12l9,-18l0.5,-10l-2.5,-6l-3.5,-4l-5,-4l-14,-18l-2.5,-4l-2.5,-8l-2,-2l-1.5,-6l-2.5,-2l-1,-4l0.5,-2l-0.5,-4l1.5,-2l-1.5,-8l0,-2l1,-2l-0.5,-2l-1.5,-2l0.5,-2l-4.5,-8l-0.5,-4l-0.5,-2l-3,-4l-2,-8M124,232l2,0l1,-2l-3,-3.5M260,56M260,84M262,86l1,0l-1,0M266,87.5l-1,0.5l-0.5,2l1.5,0.5l1,-0.5l-1,-2.5M142,220l0,2l0,-2M124,234.5l2,1.5l2,0.5l2,-1.5l0,-3l-1,-2l1,-1l2,0.5l0.5,-1.5l-1,-4l-1.5,-2l2,-1l3,1l1,2l2,-0.5l2,1l2,-1l2,1.5l4,-2l2,1l1,-2l2.5,-2l4.5,1l6,-1.5l6,1.5l2,1.5l10,0.5l4,-0.5l4,1.5l6,-0.5l16,0.5l18,2l28,0.5l10,-1.5l9.5,-3l8,-4l4,-4l4,-10l2,-12l2.5,-6l1,-6l3.5,-6l1,-8l-0.5,-4l-2,-6l-2.5,-4l-11,-10l-7.5,-10l-2,-4l-2,-6l-2,-2l-0.5,-2l-1.5,-4l0,-2l-2,-6l1.5,-2l-0.5,-4l2,-2l-1,-8l-2,-2l-2.5,-4l0,-4l-2.5,-6l0,-2l-3.5,-6l0,-6l4.5,2.5l1.5,-0.5l-3.5,-5.5l-2,-0.5l0,-2M270,95.5l1,0.5l-1,1l-0.5,-1l0.5,-0.5M128,228M124,238.5l2,-0.5l4,1.5l2,0l1.5,-1.5l0,-4l1.5,-2l-1,-6l2.5,0l1.5,2l2,0l2,-2.5l6,3.5l2,-1.5l2,0l6,-2l4,1l2,-3l4,0.5l2,0.5l2,2l6,0l2,-1l4,1.5l4,-0.5l4,1.5l20,-0.5l18,1.5l30,0l8,-1.5l10,-3l8,-4l4.5,-4.5l5.5,-10l3.5,-4l-1,-4l0.5,-6l2,-6l0.5,-6l3,-6l1,-8l-0.5,-4l-1,-6l-2,-5l-13.5,-13l-6,-10l-2,-6l-2.5,-4l-0.5,-4l0.5,-2l-1.5,-6l3,-2l-2.5,-10l-3,-4l-0.5,-8l-1.5,-2l-0.5,-6l-1.5,-1.5l-1,-2.5l0,-2l1,-0.5l4,3l0.5,-0.5l0,-2l-4.5,-7l-5.5,-7M124,241.5l2,1l2,-0.5l2,1l5.5,-1l0.5,-2.5l2,0l1,-1.5l-1,-2l0,-2l6,-2l2,-2l6,3l6,-2l6,0l4,-2.5l2,0.5l4,1.5l6,0l2,-0.5l4,1l4,0l4,1l18,-1l18,1.5l12,-1l16,0l6,-0.5l12,-3.5l10,-5l6,-6l6,-8.5l4,-2l6,-2l0.5,-2l-5.5,-6l-0.5,-4l1,-4l0,-6l3,-8l1,-8l-1.5,-13l-2,-5l-7.5,-6l-3.5,-4l-6,-10l-1,-4l-2,-4l0.5,-2l-1,-4l1.5,-2l-0.5,-8l-2.5,-6l-0.5,-4l-1.5,-2l-1.5,-10l0,-4l-1,-2l2.5,-1l0,-3l-8.5,-10l0,-2l-6,-6M124,244.5l2,0.5l2,-1l4,2l4,-0.5l2,0.5l5,-4l-1.5,-2l1.5,-2l7,-3l4,0.5l8,-0.5l4,0.5l2,-1.5l4,-1l2,1.5l8,0l6,1l14,0.5l10,-1.5l16,1l14,-1l16,0l6,-1l12,-4l8,-3.5l6,-4.5l8,-10.5l4,-2.5l8,-2l2,-1.5l0.5,-1l-0.5,-2l-4.5,-6l-1.5,-4l0.5,-4l0,-6l2,-8l1,-8l-0.5,-10l-1,-6l-2,-4l-5.5,-4l-3.5,-4l-2.5,-4l-2,-4l-2.5,-8l1,-2l-1,-6l-1,-8l-1,-4l0,-6l-1.5,-2l0,-6l-0.5,-2l0.5,-6l-5,-6l0,-2l-8,-10l0.5,-2l-3.5,-4l0,-2M124,245.5l2,1.5l4,0l2,1l2,0l4,1.5l2,-0.5l6,-2l2,-0.5l0.5,-0.5l-1.5,-2l1,-1.5l2,1l0.5,-1.5l-1.5,-2l3,-1.5l4,0.5l2,1l2,-1l6,0l8,-1.5l2,1.5l8,0l10,1.5l8,0l10,-2l16,0l14,-1.5l16,0l6,-1l12,-4.5l8,-3.5l7.5,-6l8.5,-10l4,-1.5l9,-2.5l2.5,-2l0.5,-2l-0.5,-2l-5,-6l-1.5,-4l0.5,-4l-0.5,-6l2.5,-18l0,-8l-1.5,-8l-0.5,-2l-5,-4l-4.5,-5.5l-2.5,-6.5l-2,-8l-1.5,-14l-0.5,-18l-2,-4l-3.5,-4l0,-2.5l1.5,-3.5l-3.5,-4l0.5,-4l-1,-2l0.5,-0.5l2,0.5l0,-4l-1,-2l0.5,-2l-2.5,-4M124,260l4,0.5l1.5,-2.5l-2,-6l0.5,-1.5l4,0.5l2,-0.5l2,0.5l4,0.5l4,1l1.5,-0.5l2.5,-2l2,-0.5l4,-3.5l2,-3l10,0.5l6,-1l6,1l4,-0.5l22,2l12,-3l14,-0.5l14,-2l14,-0.5l6,-0.5l12,-5l10,-5l6,-4.5l9,-10l13,-4.5l4,-2l1,-1.5l0,-2l-0.5,-2l-5,-6l-1.5,-4l-0.5,-10l2,-20l0,-8l-1,-6l-2,-6l-0.5,-3l-2,-2l-2,-0.5l-2,-3l-2,-3.5l-0.5,-4l-1,-14l0,-8l-2,-8l1,-6l0,-4l0.5,-3l1.5,-1l-1,-6l0,-8l-6,-12l0,-2M124,264.5l4,-0.5l4,0l1.5,-2l0.5,-3.5l3,-2.5l3,0l1,-2l1,-0.5l4,1.5l6,0l4.5,-3l1.5,-2.5l2,-1l14,-1.5l4,1l26,1l4,-0.5l10,-3l12,-1.5l10,-2l20,-0.5l4,-0.5l6,-2.5l16,-8.5l8,-6l8,-8.5l14,-4.5l5,-3l1,-2l-0.5,-4l-4.5,-6l-2,-4l-0.5,-2l-0.5,-8l2,-26l-1,-8l-1.5,-6l-0.5,-6l-1,-3.5l-4,-4.5l-0.5,-4l3,-26l4,-14l0.5,-4l-1,-10l-2,-8l1.5,-2l-1.5,-6M124,292l2,-2l-2,-4.5M124,313l3,-1l1,-2l-2.5,-6l2.5,-1l2,-3l-2,-2l1,-2l-0.5,-2l0.5,-2l3,-1l1,-1l-4.5,-4l-0.5,-1.5l-2,0.5l-0.5,-1l1.5,-2l0.5,-4l2,-2l0.5,-2.5l2,-1.5l-1,-2l3,-1.5l4,-1l1.5,-1.5l0.5,-4l4,0l2,-2l1,-2l5,-0.5l2,0.5l2,-0.5l2,-1l3,-0.5l3,-2.5l6,-1l8,-0.5l12,1l16,-1l4,-0.5l10,-3.5l10,-1l12,-2.5l18,-0.5l4,-1l6,-2.5l16,-8.5l10.5,-8l6.5,-6l17,-6.5l2.5,-1.5l1.5,-2l0,-6l-6,-10l-1.5,-8l2,-30l-3.5,-28l1,-8l3.5,-12l4,-8l7,-12l2,-6l0,-6l-1,-4l-4.5,-16M124,338.5l4,-6.5l2.5,-2l-1,-2l2,-2l-2.5,-2l1,-2l-1,-2l2.5,-2l-1.5,-2l3.5,-2l0.5,-2l-1,-4l1.5,-2l1,-4l-0.5,-2l-1.5,-2l4.5,-4l-1.5,-4l-2,-2l3.5,-2l-2.5,-2l2,-2l0.5,-3l3.5,-3l0.5,-2l0,-2l3,-2l0.5,-2l5,-2l1.5,-3l1,-1l3,0l2,-1l6,-0.5l6,-2.5l6,-0.5l8,1.5l6,0l12,-3.5l10,-1l8,-3.5l10,-1l12,-3.5l18,-0.5l4,-0.5l4,-1.5l16,-9l20,-14.5l18,-7.5l4,-3l2,-4l-0.5,-4l-6.5,-10l-1.5,-8l1.5,-28l-1,-16l0,-8l4,-16l3,-8l3.5,-6l5.5,-8l15.5,-14l1.5,-2l0.5,-2l-1.5,-4l-7,-10l-3.5,-8M124,348.5l0.5,-0.5l-0.5,-2.5M124,355l3.5,-3l3,0l-0.5,-2l2,-6l-1.5,-2l2.5,-4l0,-2l3.5,-8l0.5,-2l-0.5,-4l1.5,-2l0,-2l1.5,-2l1.5,-10l1,-2l-0.5,-4l2.5,-2l0,-6l2,-2l0.5,-2l-0.5,-2l0.5,-2l3.5,-7.5l2,0.5l2,-1l0.5,-2l2,-2l1.5,-2.5l4,-1l2,-2l2,-0.5l6,-0.5l4,0.5l6,2.5l2,-0.5l4,-1l8,-4l8,-4.5l8,-1.5l8,-3.5l10,-1l14,-3.5l16,-0.5l6,-1.5l18,-10l10,-7l12,-7.5l18,-8l6.5,-4.5l1.5,-3l0,-3l-8,-12l-2,-8l2,-26l-0.5,-12l0.5,-8l0.5,-4l2.5,-6l3,-12l2.5,-6l3.5,-6l2,-3l4,-3.5l8,-5l8,-2.5l10,-0.5l10,1.5l4,1.5l1,1.5l-2.5,10l0,4l2.5,4l2.5,2l2.5,1l4.5,-1l2.5,-2l1.5,-4l-0.5,-6l-2,-4.5l-2,-3l-3,-2.5l-1,-2l2.5,-12l-0.5,-2.5l-2,-3.5l-2,-2.5l-6,-2.5l-18,-5l-2,-2l-1.5,-6M124,367.5l0,-1.5l3.5,-4l3,-6l4.5,-2l2,-4l2.5,-8l-0.5,-2l5,-16l0.5,-4l1,-2l1,-6l3.5,-10l4.5,-8l1.5,-4l2,-4l2,-1l2,0l3,1l3,2.5l2,-0.5l1,-2l-1,-4l1,-4l3,-2l4,0.5l2,1.5l2,2.5l2,1l4,-1.5l6,-7l6,-4l5.5,-7l6.5,-2l6,-3.5l4,-1l8,-0.5l14,-4l16,-0.5l6,-1l20,-12l10,-7l6,-2.5l24,-12l6,-3.5l2,-2l1.5,-2.5l0,-4l-9,-14l-1.5,-6l0,-4l3,-16l0.5,-18l1.5,-4.5l4,-9.5l3,-14l2.5,-6l4.5,-6l4,-2.5l4,-0.5l2,1l2,2l6.5,12l3.5,2.5l6,3l10.5,2.5l7.5,0.5l6,-1l7,-3.5l3,-3l2,-3l1.5,-6l-1,-12l0,-20l2,-14l3.5,-10M124,389.5l2,-1.5l-0.5,-4l5,-4l-2.5,-4l5,-6l3,-8l2,-2.5l3,-1.5l5.5,-18l5,-24l4.5,-11l2,-2.5l12,-6.5l6,-6l8,-2.5l6,-3.5l6,-5.5l7.5,-4.5l4.5,-7l4,-2l4,-5l2,-1l4,-1l8,0l14,-4.5l14,-0.5l8,-1.5l6,-3l14,-8.5l10,-7.5l6,-1.5l4,-1.5l26,-14l5,-3.5l3,-4l0,-4l-1.5,-4l-5.5,-6l-3.5,-6l-1.5,-8l3,-8l4.5,-20l2.5,-5.5l6,-7.5l4,-2l12,-2l28,2l10,-2l6,-4l8.5,-9l2,-4l1,-4l1,-12l-1,-12l0,-14l1,-6l1.5,-5l2,-3.5l2,-2l13,-5.5M458,174l-8,2.5l-8.5,5.5l-3.5,4l-0.5,2l1,2l5.5,4l6,2l4,0l3,-2l4.5,-6l2,-4l1,-4l-0.5,-2.5l-2,-2.5l-4,-1M613.5,54l2.5,3l4,2l4,1.5l6,0.5l8,0l30,-3l8,-0.5M676,88.5l-2,-1l-8,0l-8,2.5l-10,1l-10,3.5l-8,4.5l-8,6l-10,12l-9,15l-2,16l2,30l1.5,4l1.5,3.5l2,2l2,0.5l2,-2l4,-7.5l4.5,-24.5l4.5,-14l4,-10l3,-3l8,-5l20,-16l4,-2.5l8,-3.5l4,-3M124,406.5l5.5,-2.5l0.5,-1l0.5,-1l-0.5,-2l1.5,-2l-1,-2l4.5,-4l0,-2l4.5,-6l-0.5,-4l3.5,-4l1.5,-10l1,-4l2,-2l5,-16l1.5,-14l2.5,-12l2,-6l3,-4l19,-15.5l12,-6.5l14,-9.5l8,-8.5l4.5,-6l3.5,-1l8,0l8,-3.5l6,-1.5l16,-0.5l8,-2l20,-12.5l8,-6l2,-1l6,-0.5l4,-1.5l30,-15l8,-5l2,-2l1,-2l0.5,-2l-1,-4l-3,-4l-7.5,-6.5l-3,-5.5l-1,-6l4,-14.5l2.5,-5.5l3.5,-4l4,-2.5l10,-3l8,-1.5l6,0l6,1.5l18,6.5l1.5,-1l-0.5,-6l1,-4l8,-6l14,-18l2,-4l1,-6l1,-10l-1.5,-14l0,-12l1.5,-6l4,-5l3.5,-3l16.5,-8M398,157.5l0,0.5l0,-0.5M400,159.5l-0.5,0.5l1,2l3,6l8.5,15.5l3.5,4.5l6.5,6l15.5,10l3.5,4l2.5,6l0.5,6l1,2l3,1l2,0l4.5,-3l3.5,-4l6,-8l10.5,-20l1.5,-8l-0.5,-6l-0.5,-4l-3,-5l-2,-2l-4,-1.5l-4,-0.5l-4,0.5l-6,2.5l-16,9l-6,1.5l-4,0.5l-6,-1.5l-4,-2l-5,-3.5l-7,-6l-4,-2.5M473.5,54l14.5,1.5l18,-0.5l12,1l42,1l20,2.5l6,1.5l10,4l19.5,11l3,2l2,2l0.5,4l-1.5,4l-17.5,28l-6,12l-4,11l-3.5,5l0,4l1,14l-2,14l-1.5,3l-4,3.5l-2,0.5l-4,0l-12,-2.5l-14,-4.5l-4,-0.5l-2,0.5l-2,1.5l-1,2.5l0,2l1,4l5,6l27,22l12.5,14l8.5,14l1.5,4l1.5,6l4,9l1,-7l1.5,-4l7.5,-7l7,-13l10,-14l15,-15l14,-12l18,-10M676,156l-6,1l-10,4l-18.5,21l-3.5,0.5l-2,-0.5l-2.5,-2l-1,-4l-1,-20l1,-8l3.5,-14l8,-3l7,-5l9,-4.5l11,-9.5l5,-3M124,433l13.5,-3l3.5,-2l2,-10l1.5,-4l1.5,-2.5l4,-3.5l2,-3.5l1,-4.5l1,-2l4,-11.5l2.5,-10.5l-0.5,-5l-0.5,-1l-4.5,-4l-1,-4l3,-12l1,-18l5,-18l2.5,-4l4,-4l12.5,-10l2,-1l2,-1.5l4,-1l2,-2.5l2,0l4,-3.5l2,-0.5l1,-2l2,-2l12,-8l7,-7l2,-1l6,-1l12,-5.5l4,-0.5l12,0.5l10,-2.5l8,-4l20,-14.5l2,-0.5l6,0l4,-1l14,-6l27.5,-11l12.5,-8l6,-3l12.5,-1l7.5,-2l-8,-2.5l-2,-1.5l-2,-3l-1,-3l-0.5,-6l4.5,-6l1,-2l-1.5,-2l-6.5,-1.5l-6,1l-6,1.5l-8,3.5l-4,1l-4,-1l-2,-2l-1,-4.5l1,-4l4,-6l6,-4.5l4,-2l4,-1l16,-1l6,2l6,4l7,8.5l3,7l0,3l-2,4l-0.5,2l0.5,8l2,1.5l6,-0.5l10,1.5l7,3.5l4.5,4l1,4l-0.5,2l-5,8l-0.5,4l1,4l2,4l4.5,3l4,1.5l4,0l10,-3l12,-8.5l12.5,-13l3.5,-4.5l3.5,-9.5l3.5,-8l3,-12l-1,-12l-3,-5.5l-4,-4.5l-6,-4l-8,0l-10,2.5l-14,7l-10,0.5l-8,-1.5l-4.5,-2.5l-3.5,-4l-1.5,-6l0.5,-4l9,-14l5.5,-8l4,-10l2.5,-14l-2,-18l0.5,-6l1,-4l3.5,-4l5.5,-4l21.5,-10l6.5,0M530,131l-2,1l-4,4l-0.5,4l0.5,2l2,2l4,2.5l4,0.5l2,-1l2,-3l1.5,-3l-0.5,-2l-1,-2.5l-3.5,-3.5l-2.5,-1l-2,0M146,399l2,-0.5l2,1.5l-1,2l-3,0l-0.5,-2l0.5,-1M676,137.5l-1.5,2.5l-2.5,2l-6.5,2l-9.5,2l-2,0l-2,-1l-1,-1l0,-2l2,-2l11,-5l8,-1l2,0l2,1.5M124,443.5l10.5,-3.5l13.5,-2l3,-2l2.5,-4l0,-2l-2,-8l0,-4l2,-4l2.5,-2.5l5,-3.5l1,-2l0.5,-8l1,-8l6.5,-24l1,-10l-0.5,-4l-1,-4l-3.5,-4.5l-2,-3.5l-0.5,-4l0.5,-4l5,-14l5,-5.5l4,-3l12,-5.5l8,-3l13,-7l1.5,-2l-0.5,-2l-2.5,-4l0,-2l3,-2l9.5,-4l4,-1l7.5,-7l6.5,-4l6,-1.5l14,2.5l10,-4l8,-4l4.5,-3l5.5,-5l4,-1l2,-1l2,-3l2,-2l4,0l6,-1.5l8,-1l14,-4.5l10,-2l17,-9l11,-4l12,-1.5l10,1l4,-0.5l4,1l4,2.5l22,20.5l4,2.5l4,1l4,0l4,-1.5l10,-6l10,-7.5l14,-13l8,-10.5l7.5,-20l1.5,-8l0.5,-6l-2,-12l-2,-4l-3.5,-4l-4,-3.5l-4,-2.5l-4,-1l-10,0l-12,2l-12,3.5l-6,0l-4,-0.5l-4,-2l-1,-2l0,-4l2,-8l17,-30l4,-6l4,-1.5l15,-2.5l11,-3.5l5.5,-2.5l7.5,-6l7.5,-12l3,-4l6.5,-4l14,-2l8,-0.5l18,1l18,3l8,3l10,5.5l7.5,8l4,8l1,4l-0.5,8l-4,11l-2.5,5l-3.5,4l-6,1.5l-3.5,2.5l0.5,6l-1,2.5l-2,1.5l-2,-0.5l-4,-4l-4,-8l-6,-15.5l-4,-5l-4,-2l-14,2l-6,2.5l-4.5,4.5l-5.5,3.5l-2,2.5l-1,4l0,6l-1,5.5l-4.5,12.5l-0.5,6l2.5,20l5,12l3.5,5l8.5,5l23.5,11l12,7.5l6.5,5.5l13,14l6.5,12l2,12l1.5,4l0,8l-1.5,4l0,2l0.5,2l-1,2l6.5,2.5l2,-1l2,-2.5l5,-7l2,-4l3,-10l3,-6l9,-14l14,-16l18,-15l20,-10M456,67.5l4,-1.5l2,0l2,1l1.5,1l1,2l0,4l-5,6l-3.5,3l-8,4l-2,0l-2,-1l-2,-2l-1.5,-4l1,-4l4,-4l2.5,-2l6,-2.5M262,277.5l-6,5.5l-11,5l3,1.5l2,0l6,-1.5l5,-2l3,-2l0.5,-2l-0.5,-3.5l-2,-1M232,283.5l-1,0.5l1,1.5l2,1l2,-0.5l-4,-2.5M586,288l-2,1l-6.5,7l-7.5,6.5l-12,6.5l-9.5,3l-2.5,2l-2,0l4,0.5l3.5,1.5l4.5,0l11.5,-4l7,-4l9.5,-6.5l8,-9.5l0,-2l-4,-2l-2,0M536,313.5l-0.5,0.5l2.5,0.5l6,-0.5l-8,-0.5M124,458l5.5,-6l5,-4l5.5,-3l12,-5l8.5,-6l1.5,-2l0,-2l-3.5,-6l-1,-4l0.5,-4l2,-1.5l2,0.5l2,4l4,4l4,-1l3,-2l0,-2l-5,-8.5l-2,-5l0,-9.5l2,-10l8,-23l1,-6l1,-6l0.5,-14l1.5,-3l4,-5l8,-6.5l4,-2.5l12,-3.5l16,-2.5l26,-0.5l22,2.5l6,0l8,-3l5,-4l1.5,-2l1,-2l0.5,-6l2,-4l3.5,-4l0,-2l-1.5,-7l-2,-4l-2.5,-3l-9.5,-8l-0.5,-4l2,-2l10.5,-5.5l4,-3.5l6,-1.5l6,0l10,-2l8,0l14,3l22,6l8,0.5l2,-1l1.5,-2l0.5,-4l-0.5,-4l-4,-6l0,-2l0.5,-2l2,-2l4,-2l10,-0.5l6,1l2,1l8,6.5l8,10l6,4.5l6,2.5l8,0.5l6,-2.5l6,-4l8,-6l14,-12l10.5,-11l7.5,-10l6,-11l4,-3l2,-0.5l14,1.5l20,5l12,4l17,10l14,14l7,12l3,16l0,4l-1,1.5l-4,2.5l-2,2l-4,6.5l-8,10l-4,3.5l-8,5.5l-10,2.5l-6,0.5l-8,-1l-6.5,-1.5l-4.5,-2l-5,-4l-1,-2l-0.5,-2l1,-4l4.5,-4.5l12,-7l2,-2.5l0,-2l0,-2l-1.5,-2l-2.5,-2l-4,-2l-4,-0.5l-12,0l-10,2.5l-8,4l-7,6l-3,3.5l-2,1l-3,-2.5l-5,-2l-4,-0.5l-4,1l-4.5,3.5l-2,4l-1,4l1.5,3.5l2,2.5l4.5,4l-0.5,1.5l-2,0.5l2,2l-1.5,8l0.5,4l4,6l5,4l12,4l14,1.5l14,3.5l26,1.5l20,-6l16,-8l12,-8.5l14,-13.5l9.5,-16.5l8.5,-8l1,-4l1,-10l2,-4l9.5,-8l10.5,-11l12,-10l8,-4.5l14,-7M522,75.5l6,-0.5l4,0.5l7.5,2.5l1.5,2l-13,2l-8.5,0l-2,-2l0.5,-2l4,-2.5M508,102l2,0.5l1,1.5l0.5,2l-0.5,2l-3,4.5l-6,5l-4.5,2.5l-1.5,2l-1,8l0,10l-0.5,2l-2.5,2l-4,0l-14,-3.5l-16,-1l-6.5,-1.5l-2.5,-2l0,-2l1,-0.5l6,-3l22,-15l8,-3l8,-0.5l8,-8l4,-2l2,0M262.5,566l-0.5,-2.5l-7,-15.5l0,-18l9,-64l1,-14l2,-14l4,-16l2,-4l12,-18l11,-13l3,-7l-0.5,-4l11.5,-5.5l5.5,-4.5l2.5,-0.5l12,-13.5l2,-4l1,-4l-1.5,-2l-11.5,-5.5l-4,-1.5l-8,-1l-8,1.5l-8,4.5l-6.5,8l-4.5,10l0,2l1.5,2l-0.5,2l-2,-1.5l-1,-6.5l-1,-1.5l-2.5,-6.5l-0.5,-2l1,-2l2,-2l22,-12.5l28,-20.5l6,-2.5l2,0l2,1.5l1,4l-1,10.5l-3,15.5l1,1.5l6,2l2,-0.5l6,-4l11,-9l7.5,-10l3.5,-4l4,-1.5l2,1l0.5,2.5l-0.5,1.5l-3,6.5l7,9.5l2,5.5l0.5,3l-0.5,4l-2,5l-4,3l-4,1l-6,0l-3,-1l-2.5,-2l-1,-2l-0.5,-8l-0.5,-2l-0.5,-0.5l-4.5,4.5l-1.5,4l0.5,2l1.5,2.5l7,7.5l6.5,4l2.5,0.5l4,0.5l19.5,-1l36.5,-5.5l26,-7.5l2.5,-1l4,-6l1.5,-1l13,-5l15,-1l24,1l6,0l18,-3.5l18,-5.5l14,-7l6,-4l8,-6.5l9,-9.5l5.5,-4l7.5,-9.5l2,-0.5l6,2.5l6,1l8,0l2,-1.5l12,-6l10,-7l15,-9l2,-2l-0.5,-2l0.5,-4l-1,-1.5l-10.5,-6.5l-3.5,-4l-1,-2l0,-2l2,-4l4,-4l13,-6M528,215.5l2,-1l4,0l10,1l6,2.5l10,6l7.5,8l2,4l0,2l0,4l-1.5,4l-2,0.5l-0.5,-2.5l-3.5,-2l-6,-9l-4,-2.5l-8,-2.5l-18,-4.5l-4,-2.5l-2,0l-0.5,1l-1.5,0.5l-3,-2.5l1,-0.5l6,0l6,-4M504,222l6,-1l1.5,1l-1.5,1l-4,-1l-2,1.5l0,-1.5M502,223.5l2,0.5l-2.5,0l0.5,-0.5M328,262l2,-1l4,-0.5l7,1.5l3.5,2l1,2l1,4l-0.5,4l-2,4l-2,1l-2,-1l-8,-7l-5,-5l-0.5,-2l1.5,-2M214,326l6,-1l12,2l10,-0.5l5.5,1.5l3.5,2l1.5,2l0.5,2l-1,2l-2,0.5l-6,0l-6,0.5l-4,1.5l-4,3l-2,6l0,4.5l4,12.5l2,3.5l10,0l5,2l5.5,4l1,2l0,4l-3,4l-4.5,3l-6,2.5l-4,1l-2,-0.5l-1.5,-2l-3,-10l-1.5,-2l-6,6l-4,2.5l-12,3l-2.5,2.5l1,2l8.5,8l1,2l-1,2l-11,9.5l-6,6l-2,1.5l-2,0l-2,-1.5l-7.5,-11.5l-1.5,-4l-1,-6l0.5,-8l-1.5,-8l0,-8l0.5,-6l2,-6l1.5,-10l0.5,-10l0.5,-2l2,-2.5l8.5,-7.5l5.5,-2l12,-2M362,335.5l0,3l0,-3M334,341.5l-0.5,0.5l0.5,0l0,-0.5M282,364.5l2,3.5l2,2l4,1.5l2,2.5l-5.5,4l-4.5,0.5l-1.5,-2.5l-0.5,-6l0.5,-4l1.5,-1.5M226,395.5l6,-0.5l1,1l1,2l-1,8l-1,2l-2,1.5l-2,0l-2.5,-1.5l-7,-6l3.5,-4l4,-2.5M186,434l0.5,0l-0.5,0.5l0,-0.5M450,436l-0.5,2l0,2l2.5,1.5l4,0.5l2,-2l0,-2l-2,-2.5l-2,-0.5l-2,0l-2,1M170,437l2,-0.5l2,-0.5l3,2l2,2l-0.5,2l-3,4l-13.5,11l-4,1.5l-4,0l-8,-1l-2.5,-1.5l-0.5,-2l0.5,-2l1,-2l3.5,-3l10,-6l12,-4M404,438l-2,2l-0.5,2l0.5,3l2,1.5l2,0l3,-0.5l8.5,-4l0.5,-2l-2,-2l-4,-1.5l-4,0l-4,1.5M166,477.5l8.5,0.5l2.5,2l-2,2l-9,3.5l-8,4.5l-6,6.5l-6,5.5l-6,8.5l-8,5l-2,1l-2,-0.5l-2,-2l-1.5,-4l0.5,-4l2.5,-4l6.5,-8l14,-10l4.5,-2l9.5,-2.5l4,-2M361,566l2.5,-14l3,-6l2.5,-4l10.5,-10l8.5,-10.5l11,-15.5l3,-6l4.5,-6l3.5,-4l7,-6l7,-4.5l9,-3.5l5,-1l16,1.5l24,5l10,1.5l4,0l6,-3l3,-2l1.5,-2l1,-6l0.5,-14l-0.5,-8l-2.5,-6l-4,-6l-12.5,-16l-7,-8l-5.5,-5.5l-3.5,-2.5l-12.5,-5l-6,-1l-14,0.5l-16,3l-16,0.5l-6,1.5l-8,4l-14,11.5l-5,5l-9.5,12l-7.5,6.5l-4,2l-6,-1.5l-4,-3l-4,-7l-0.5,-5l0.5,-8l2,-4l6,-8l4,-3l10,-5.5l8,-3l12,-2.5l16,-1l10.5,-3l13.5,-2.5l22,-3l4,-1.5l16,-7.5l12,-0.5l10.5,1l3.5,3l1.5,5l-3.5,2.5l-2,0.5l-4,0l-1.5,1l-0.5,2l6,4.5l6,6.5l6.5,13l6.5,18l8,14l7,8l4,1l2,-0.5l2,-2.5l2.5,-8l3.5,-6l2,-2.5l2.5,-1.5l5.5,-1l8,-0.5l12,2l14,3.5l4,-0.5l40,-9.5l4,-2l14,-9l14,-7l4,0l10,3.5l12,0.5M620,316l4,0l8.5,4l1,2l-0.5,2l-3,3l-2,1l-5,-2l-3,-2l-2.5,-4l0.5,-3l2,-1M654,318l4,0l5,4l2,4l0,2l-1,1l-2,1l-6,0l-7.5,-4l-2.5,-2l-1,-2l1.5,-2l7.5,-2M302,418l2,0.5l1,1.5l-1.5,4l-3.5,5.5l-6,7l-2,1l-0.5,-5.5l2.5,-7.5l1.5,-2.5l2.5,-2.5l4,-1.5M292,444.5l2,0l1.5,1.5l5,2l-2.5,8l-1.5,2l-0.5,2l1,8l-1,2.5l-2,1.5l-2,0l-1.5,-2l-0.5,-2l0,-16l1,-6l1,-1.5" stroke="#000" stroke-width="1.05" fill="none"/></g>
<path fill="#fff" d="M251.75,224h24v22.5h-7.75v17.5h-23.4v-26h7.15z"/>
<text x="253" y="234" font-size="11.5">1</text><text x="268.5" y="234" font-size="11.5">5</text><text x="269" y="246.5" font-size="11.5">5</text><text x="246" y="252.5" font-size="11.5">1</text>
<rect x="356.8" y="82.2" width="23.4" height="11.5" fill="#fff"/>
<text x="357.8" y="92.2" font-size="11.5" textLength="21.4" lengthAdjust="spacingAndGlyphs">14.5</text>
<rect x="378.7" y="120.2" width="13.6" height="11.5" fill="#fff"/>
<text x="379.7" y="130.2" font-size="11.5" textLength="11.6" lengthAdjust="spacingAndGlyphs">15</text>
<rect x="373.3" y="130.8" width="23.4" height="11.5" fill="#fff"/>
<text x="374.3" y="140.7" font-size="11.5" textLength="21.4" lengthAdjust="spacingAndGlyphs">15.5</text>
<rect x="361.7" y="143.8" width="13.6" height="11.5" fill="#fff"/>
<text x="362.7" y="153.7" font-size="11.5" textLength="11.6" lengthAdjust="spacingAndGlyphs">16</text>
<rect x="356.3" y="153.8" width="23.4" height="11.5" fill="#fff"/>
<text x="357.3" y="163.7" font-size="11.5" textLength="21.4" lengthAdjust="spacingAndGlyphs">16.5</text>
<rect x="456.7" y="93.2" width="13.6" height="11.5" fill="#fff"/>
<text x="457.7" y="103.2" font-size="11.5" textLength="11.6" lengthAdjust="spacingAndGlyphs">17</text>
<rect x="534.5" y="96.2" width="13.6" height="11.5" fill="#fff"/>
<text x="535.5" y="106.2" font-size="11.5" textLength="11.6" lengthAdjust="spacingAndGlyphs">17</text>
<rect x="537.3" y="52.8" width="23.4" height="11.5" fill="#fff"/>
<text x="538.3" y="62.7" font-size="11.5" textLength="21.4" lengthAdjust="spacingAndGlyphs">16.5</text>
<rect x="118.9" y="517.2" width="13.6" height="11.5" fill="#fff"/>
<text x="119.9" y="527.2" font-size="11.5" textLength="11.6" lengthAdjust="spacingAndGlyphs">18</text>
<rect x="416.8" y="160.2" width="23.4" height="11.5" fill="#fff"/>
<text x="417.8" y="170.2" font-size="11.5" textLength="21.4" lengthAdjust="spacingAndGlyphs">16.5</text>
<rect x="421.7" y="170.2" width="13.6" height="11.5" fill="#fff"/>
<text x="422.7" y="180.2" font-size="11.5" textLength="11.6" lengthAdjust="spacingAndGlyphs">16</text>
<rect x="485.8" y="187.8" width="23.4" height="11.5" fill="#fff"/>
<text x="486.8" y="197.7" font-size="11.5" textLength="21.4" lengthAdjust="spacingAndGlyphs">17.5</text>
<rect x="603.2" y="183.2" width="13.6" height="11.5" fill="#fff"/>
<text x="604.2" y="193.2" font-size="11.5" textLength="11.6" lengthAdjust="spacingAndGlyphs">16</text>
<rect x="430.7" y="241.8" width="13.6" height="11.5" fill="#fff"/>
<text x="431.7" y="251.7" font-size="11.5" textLength="11.6" lengthAdjust="spacingAndGlyphs">17</text>
<rect x="356.3" y="251.2" width="23.4" height="11.5" fill="#fff"/>
<text x="357.3" y="261.2" font-size="11.5" textLength="21.4" lengthAdjust="spacingAndGlyphs">17.5</text>
<rect x="589.3" y="262.2" width="23.4" height="11.5" fill="#fff"/>
<text x="590.3" y="272.2" font-size="11.5" textLength="21.4" lengthAdjust="spacingAndGlyphs">16.5</text>
<rect x="529.3" y="292.8" width="23.4" height="11.5" fill="#fff"/>
<text x="530.3" y="302.7" font-size="11.5" textLength="21.4" lengthAdjust="spacingAndGlyphs">17.5</text>
<rect x="542.7" y="307.8" width="13.6" height="11.5" fill="#fff"/>
<text x="543.7" y="317.7" font-size="11.5" textLength="11.6" lengthAdjust="spacingAndGlyphs">17</text>
<rect x="511.8" y="321.8" width="23.4" height="11.5" fill="#fff"/>
<text x="512.8" y="331.7" font-size="11.5" textLength="21.4" lengthAdjust="spacingAndGlyphs">17.5</text>
<rect x="516.7" y="332.8" width="13.6" height="11.5" fill="#fff"/>
<text x="517.7" y="342.7" font-size="11.5" textLength="11.6" lengthAdjust="spacingAndGlyphs">18</text>
<rect x="370.2" y="303.8" width="13.6" height="11.5" fill="#fff"/>
<text x="371.2" y="313.7" font-size="11.5" textLength="11.6" lengthAdjust="spacingAndGlyphs">18</text>
<rect x="240.7" y="284.2" width="13.6" height="11.5" fill="#fff"/>
<text x="241.7" y="294.2" font-size="11.5" textLength="11.6" lengthAdjust="spacingAndGlyphs">17</text>
<rect x="226.3" y="305.8" width="23.4" height="11.5" fill="#fff"/>
<text x="227.3" y="315.7" font-size="11.5" textLength="21.4" lengthAdjust="spacingAndGlyphs">17.5</text>
<rect x="223.2" y="319.2" width="13.6" height="11.5" fill="#fff"/>
<text x="224.2" y="329.2" font-size="11.5" textLength="11.6" lengthAdjust="spacingAndGlyphs">18</text>
<rect x="274.7" y="374.2" width="13.6" height="11.5" fill="#fff"/>
<text x="275.7" y="384.2" font-size="11.5" textLength="11.6" lengthAdjust="spacingAndGlyphs">18</text>
<rect x="460.8" y="365.2" width="23.4" height="11.5" fill="#fff"/>
<text x="461.8" y="375.2" font-size="11.5" textLength="21.4" lengthAdjust="spacingAndGlyphs">18.5</text>
<rect x="132.3" y="413.2" width="23.4" height="11.5" fill="#fff"/>
<text x="133.3" y="423.2" font-size="11.5" textLength="21.4" lengthAdjust="spacingAndGlyphs">16.5</text>
<rect x="180.7" y="413.8" width="13.6" height="11.5" fill="#fff"/>
<text x="181.7" y="423.7" font-size="11.5" textLength="11.6" lengthAdjust="spacingAndGlyphs">18</text>
<rect x="339.3" y="438.8" width="23.4" height="11.5" fill="#fff"/>
<text x="340.3" y="448.7" font-size="11.5" textLength="21.4" lengthAdjust="spacingAndGlyphs">18.5</text>
<rect x="563.3" y="432.2" width="23.4" height="11.5" fill="#fff"/>
<text x="564.3" y="442.2" font-size="11.5" textLength="21.4" lengthAdjust="spacingAndGlyphs">18.5</text>
<rect x="278.3" y="465.8" width="23.4" height="11.5" fill="#fff"/>
<text x="279.3" y="475.7" font-size="11.5" textLength="21.4" lengthAdjust="spacingAndGlyphs">18.5</text>
<rect x="477.3" y="477.8" width="23.4" height="11.5" fill="#fff"/>
<text x="478.3" y="487.7" font-size="11.5" textLength="21.4" lengthAdjust="spacingAndGlyphs">18.5</text>
<rect x="244.3" y="252.2" width="23.4" height="11.5" fill="#fff"/>
<text x="245.3" y="262.2" font-size="11.5" textLength="21.4" lengthAdjust="spacingAndGlyphs">16.5</text>
<path d="M125,146.2L137.5,149.5L152.5,152.5L165,151.2L162,145L171.2,136.2L182.5,143.8L192.5,136.2L205,130L220,122.5L237.5,116.2L252.5,116.2L267.5,122.5L280,128.8L288,140L292.5,152.5L283.8,157.5L288,163.8L292.5,167.5L290,175L288,187L285,200L282.5,212.5L277.5,220L265,223L245,224.5L230,226.5L221,228L215,230.2L213.5,231.8M352,56L338,65.8L324,74.5L310,82.4L299.5,89.4L292.5,95.5L287.2,100.8L280.2,108.6L284.6,116.5L289.9,111.2L296.9,115.6L301.2,113.4L301.2,123.5L302.1,137.5L298.6,148L294.2,155L292.5,152.5M283.8,56L282,67.5L279.4,78L280.2,90.2L282,98L289,99M290.8,56L292.5,67.5L296,79.8L299.5,87.6M310,69.2L315.2,64.9L324,62.2L327.5,57L331,58.8L327.5,65.8L318.8,69.2L313.5,74.5L310,69.2M190.2,189.8L185,193.5L179,198.8L176,205.5L178.2,212.2L183.5,217.5L185.8,223.5L185,229.5L180.5,232.5L172.2,234.8L167.8,240L165.5,247.5L166.2,251.2L172.2,249.8L177.5,244.5L182,240.8L188,240.8L191.8,244.5L190.2,249L185.8,250.5L183.5,256.5L177.5,264L173.8,270L166.2,277.5L160,281.2M190.2,189.8L197,191.2L206,193.5L211.2,198L206,201L200.8,206.2L202.2,214.5L207.5,217.5L215,219.8L215.8,225L210.5,227.2L203,230.2L191.8,234.8L194.8,240.8L205.2,236.2L213.5,231.8L211.2,227.2M182,240.8L183,245L186,248M166.2,251.2L162.5,258L160.2,265.5L159.5,272L160,281.2L152.5,295L146.2,305L143.8,312.5L145,322.5L148,330L143,335L145,342L148,352L147,364L144,374L140,384L137,394L136,403L124,404M136,403L135,410M136.2,425L136.2,432.5L138.8,438.8L136.2,446.2L131.2,455L125,461.2" stroke="#000" stroke-width="2.6" fill="none" stroke-linejoin="round" stroke-linecap="round"/>
</g>
<rect x="124.5" y="55" width="550.5" height="508.5" fill="none" stroke="#000" stroke-width="2"/>
<path d="M124.6,564.5v3.5M195.2,564.5v3.5M265.8,564.5v3.5M336.4,564.5v3.5M407,564.5v3.5M477.6,564.5v3.5M548.2,564.5v3.5M618.8,564.5v3.5M123.5,106.2h-4M123.5,191.1h-4M123.5,275.9h-4M123.5,360.6h-4M123.5,445.4h-4M123.5,530.2h-4" stroke="#000" stroke-width="1" fill="none"/>
<text x="124.6" y="579.6" font-size="12" text-anchor="middle">28.5</text>
<text x="195.2" y="579.6" font-size="12" text-anchor="middle">29</text>
<text x="265.8" y="579.6" font-size="12" text-anchor="middle">29.5</text>
<text x="336.4" y="579.6" font-size="12" text-anchor="middle">30</text>
<text x="407" y="579.6" font-size="12" text-anchor="middle">30.5</text>
<text x="477.6" y="579.6" font-size="12" text-anchor="middle">31</text>
<text x="548.2" y="579.6" font-size="12" text-anchor="middle">31.5</text>
<text x="618.8" y="579.6" font-size="12" text-anchor="middle">32</text>
<text x="117" y="110.5" font-size="12" text-anchor="end">45.5</text>
<text x="117" y="195.4" font-size="12" text-anchor="end">45</text>
<text x="117" y="280.2" font-size="12" text-anchor="end">44.5</text>
<text x="117" y="364.9" font-size="12" text-anchor="end">44</text>
<text x="117" y="449.8" font-size="12" text-anchor="end">43.5</text>
<text x="117" y="534.5" font-size="12" text-anchor="end">43</text>
<text x="76.2" y="42" font-size="24" textLength="77.5" lengthAdjust="spacingAndGlyphs" stroke="#fff" stroke-width="0.35">Salinity</text>
<text x="170" y="42" font-size="24" textLength="62.5" lengthAdjust="spacingAndGlyphs" stroke="#fff" stroke-width="0.35">(ppt).</text>
<text x="245" y="42" font-size="24" textLength="48.6" lengthAdjust="spacingAndGlyphs" stroke="#fff" stroke-width="0.35">Date</text>
<text x="310.8" y="42" font-size="24" textLength="135.6" lengthAdjust="spacingAndGlyphs" stroke="#fff" stroke-width="0.35">2014.07.25.</text>
<text x="461.8" y="42" font-size="24" textLength="49.5" lengthAdjust="spacingAndGlyphs" stroke="#fff" stroke-width="0.35">Time</text>
<text x="528" y="42" font-size="24" textLength="137" lengthAdjust="spacingAndGlyphs" stroke="#fff" stroke-width="0.35">00(h):00(m)</text>
<text x="683" y="42" font-size="24" textLength="39" lengthAdjust="spacingAndGlyphs" stroke="#fff" stroke-width="0.35">GMT</text>
<text x="323.75" y="605.75" font-size="18.5" textLength="85.75" lengthAdjust="spacingAndGlyphs">Langitude</text>
<text x="422.5" y="605.75" font-size="18.5" textLength="52.5" lengthAdjust="spacingAndGlyphs">(East)</text>
<g transform="translate(81.5,383) rotate(-90)"><text x="0" y="0" font-size="18.5" textLength="70" lengthAdjust="spacingAndGlyphs">Latitude</text><text x="83" y="0" font-size="18.5" textLength="62.5" lengthAdjust="spacingAndGlyphs">(North)</text></g>
<text x="147.2" y="110" font-size="19" textLength="10.8" lengthAdjust="spacingAndGlyphs" stroke="#fff" stroke-width="0.45">Z</text>
<text x="175.6" y="110" font-size="19" textLength="13.8" lengthAdjust="spacingAndGlyphs" stroke="#fff" stroke-width="0.45">=</text>
<text x="206" y="110" font-size="19" textLength="33" lengthAdjust="spacingAndGlyphs" stroke="#fff" stroke-width="0.45">2.5</text>
<text x="256" y="110" font-size="19" textLength="18" lengthAdjust="spacingAndGlyphs" stroke="#fff" stroke-width="0.45">m</text>
<rect x="708" y="549" width="16" height="8" fill="#00008f"/>
<rect x="708" y="542" width="16" height="7" fill="#00009f"/>
<rect x="708" y="534" width="16" height="8" fill="#0000af"/>
<rect x="708" y="526" width="16" height="8" fill="#0000bf"/>
<rect x="708" y="518" width="16" height="8" fill="#0000cf"/>
<rect x="708" y="510" width="16" height="8" fill="#0000df"/>
<rect x="708" y="503" width="16" height="7" fill="#0000ef"/>
<rect x="708" y="495" width="16" height="8" fill="#0000ff"/>
<rect x="708" y="487" width="16" height="8" fill="#0010ff"/>
<rect x="708" y="480" width="16" height="7" fill="#0020ff"/>
<rect x="708" y="472" width="16" height="8" fill="#0030ff"/>
<rect x="708" y="464" width="16" height="8" fill="#0040ff"/>
<rect x="708" y="456" width="16" height="8" fill="#0050ff"/>
<rect x="708" y="448" width="16" height="8" fill="#0060ff"/>
<rect x="708" y="441" width="16" height="7" fill="#0070ff"/>
<rect x="708" y="433" width="16" height="8" fill="#0080ff"/>
<rect x="708" y="425" width="16" height="8" fill="#008fff"/>
<rect x="708" y="418" width="16" height="7" fill="#009fff"/>
<rect x="708" y="410" width="16" height="8" fill="#00afff"/>
<rect x="708" y="402" width="16" height="8" fill="#00bfff"/>
<rect x="708" y="394" width="16" height="8" fill="#00cfff"/>
<rect x="708" y="386" width="16" height="8" fill="#00dfff"/>
<rect x="708" y="379" width="16" height="7" fill="#00efff"/>
<rect x="708" y="371" width="16" height="8" fill="#00ffff"/>
<rect x="708" y="363" width="16" height="8" fill="#10ffef"/>
<rect x="708" y="356" width="16" height="7" fill="#20ffdf"/>
<rect x="708" y="348" width="16" height="8" fill="#30ffcf"/>
<rect x="708" y="340" width="16" height="8" fill="#40ffbf"/>
<rect x="708" y="332" width="16" height="8" fill="#50ffaf"/>
<rect x="708" y="324" width="16" height="8" fill="#60ff9f"/>
<rect x="708" y="317" width="16" height="7" fill="#70ff8f"/>
<rect x="708" y="309" width="16" height="8" fill="#80ff80"/>
<rect x="708" y="301" width="16" height="8" fill="#8fff70"/>
<rect x="708" y="294" width="16" height="7" fill="#9fff60"/>
<rect x="708" y="286" width="16" height="8" fill="#afff50"/>
<rect x="708" y="278" width="16" height="8" fill="#bfff40"/>
<rect x="708" y="270" width="16" height="8" fill="#cfff30"/>
<rect x="708" y="262" width="16" height="8" fill="#dfff20"/>
<rect x="708" y="255" width="16" height="7" fill="#efff10"/>
<rect x="708" y="247" width="16" height="8" fill="#ffff00"/>
<rect x="708" y="239" width="16" height="8" fill="#ffef00"/>
<rect x="708" y="232" width="16" height="7" fill="#ffdf00"/>
<rect x="708" y="224" width="16" height="8" fill="#ffcf00"/>
<rect x="708" y="216" width="16" height="8" fill="#ffbf00"/>
<rect x="708" y="208" width="16" height="8" fill="#ffaf00"/>
<rect x="708" y="200" width="16" height="8" fill="#ff9f00"/>
<rect x="708" y="193" width="16" height="7" fill="#ff8f00"/>
<rect x="708" y="185" width="16" height="8" fill="#ff8000"/>
<rect x="708" y="177" width="16" height="8" fill="#ff7000"/>
<rect x="708" y="170" width="16" height="7" fill="#ff6000"/>
<rect x="708" y="162" width="16" height="8" fill="#ff5000"/>
<rect x="708" y="154" width="16" height="8" fill="#ff4000"/>
<rect x="708" y="146" width="16" height="8" fill="#ff3000"/>
<rect x="708" y="138" width="16" height="8" fill="#ff2000"/>
<rect x="708" y="131" width="16" height="7" fill="#ff1000"/>
<rect x="708" y="123" width="16" height="8" fill="#ff0000"/>
<rect x="708" y="115" width="16" height="8" fill="#ef0000"/>
<rect x="708" y="108" width="16" height="7" fill="#df0000"/>
<rect x="708" y="100" width="16" height="8" fill="#cf0000"/>
<rect x="708" y="92" width="16" height="8" fill="#bf0000"/>
<rect x="708" y="84" width="16" height="8" fill="#af0000"/>
<rect x="708" y="76" width="16" height="8" fill="#9f0000"/>
<rect x="708" y="69" width="16" height="7" fill="#8f0000"/>
<rect x="708" y="61" width="16" height="8" fill="#800000"/>
<text x="735.3" y="73.7" font-size="13" textLength="28.3" lengthAdjust="spacingAndGlyphs">19.1</text>
<text x="735.3" y="190.2" font-size="13" textLength="28.3" lengthAdjust="spacingAndGlyphs">16.6</text>
<text x="735.3" y="312.2" font-size="13" textLength="28.3" lengthAdjust="spacingAndGlyphs">13.9</text>
<text x="735.3" y="434.2" font-size="13" textLength="28.3" lengthAdjust="spacingAndGlyphs">11.3</text>
<text x="735.3" y="556.2" font-size="13" textLength="28.3" lengthAdjust="spacingAndGlyphs">8.71</text>
</svg></body></html>
